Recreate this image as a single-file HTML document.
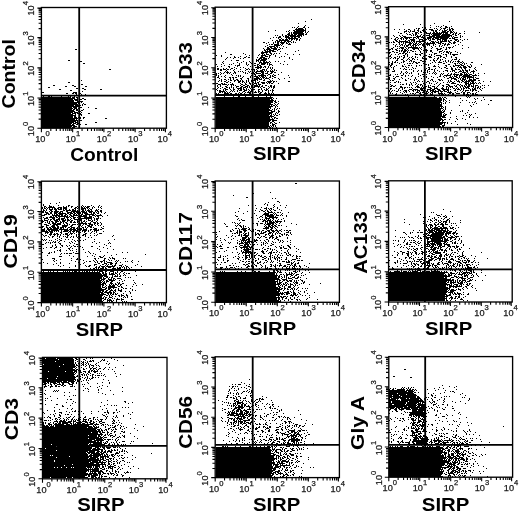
<!DOCTYPE html><html><head><meta charset="utf-8"><style>html,body{margin:0;padding:0;background:#fff;width:520px;height:513px;overflow:hidden}svg{display:block;will-change:transform}text{font-family:"Liberation Sans",sans-serif;fill:#111}</style></head><body>
<svg width="520" height="513" viewBox="0 0 520 513">
<path d="M75 49.5h2M68 60.5h2M80 61.5h2M83 63.5h2M109 69.5h2M81 80.5h1M68 82.5h2M81 84.5h2M53 85.5h2M72 85.5h2M65 86.5h2M74 86.5h2M85 86.5h2M48 87.5h2M76 88.5h2M82 88.5h2M59 89.5h2M84 89.5h2M100 89.5h2M70 90.5h2M82 91.5h1M42 92.5h2M73 92.5h4M66 93.5h2M72 93.5h2M75 93.5h2M80 93.5h1M76 94.5h1M81 94.5h1M85 94.5h1M75 95.5h1M43 96.5h1M48 96.5h2M51 96.5h1M61 96.5h1M68 96.5h1M70 96.5h1M74 96.5h1M42 97.5h29M72 97.5h3M76 97.5h2M42 98.5h33M77 98.5h1M79 98.5h1M82 98.5h2M42 99.5h31M74 99.5h4M80 99.5h2M84 99.5h2M42 100.5h32M75 100.5h3M42 101.5h32M77 101.5h6M42 102.5h37M81 102.5h1M42 103.5h35M78 103.5h2M83 103.5h1M42 104.5h36M79 104.5h1M82 104.5h1M84 104.5h2M42 105.5h32M75 105.5h6M82 105.5h1M42 106.5h37M42 107.5h30M73 107.5h4M80 107.5h2M88 107.5h1M42 108.5h31M74 108.5h3M78 108.5h2M95 108.5h2M42 109.5h30M73 109.5h2M76 109.5h2M79 109.5h1M83 109.5h1M42 110.5h32M76 110.5h2M79 110.5h1M81 110.5h2M42 111.5h33M78 111.5h1M80 111.5h1M42 112.5h31M74 112.5h4M81 112.5h1M42 113.5h29M72 113.5h4M77 113.5h2M80 113.5h1M88 113.5h2M42 114.5h31M75 114.5h1M80 114.5h2M42 115.5h34M81 115.5h1M42 116.5h31M74 116.5h2M79 116.5h1M42 117.5h31M74 117.5h3M78 117.5h1M80 117.5h1M83 117.5h2M42 118.5h36M80 118.5h1M83 118.5h1M105 118.5h2M42 119.5h33M76 119.5h1M42 120.5h36M80 120.5h2M42 121.5h34M77 121.5h1M42 122.5h32M75 122.5h3M95 122.5h2M42 123.5h30M73 123.5h3M77 123.5h2M42 124.5h29M72 124.5h2M76 124.5h2M80 124.5h1M85 124.5h2M42 125.5h33M42 126.5h30M73 126.5h4M42 127.5h29M72 127.5h3" stroke="#000" stroke-width="1.0" fill="none"/>
<rect x="41.4" y="7.5" width="125.0" height="120.7" fill="none" stroke="#000" stroke-width="1.35"/>
<path d="M79.2 7.5V128.2M41.4 95.6H166.4" stroke="#000" stroke-width="1.8"/>
<path d="M41.40 128.2v4.0M41.4 128.20h-4.0M50.81 128.2v2.8M41.4 119.12h-2.8M56.31 128.2v2.8M41.4 113.80h-2.8M60.21 128.2v2.8M41.4 110.03h-2.8M63.24 128.2v2.8M41.4 107.11h-2.8M65.72 128.2v2.8M41.4 104.72h-2.8M67.81 128.2v2.8M41.4 102.70h-2.8M69.62 128.2v2.8M41.4 100.95h-2.8M71.22 128.2v2.8M41.4 99.41h-2.8M72.65 128.2v4.0M41.4 98.02h-4.0M82.06 128.2v2.8M41.4 88.94h-2.8M87.56 128.2v2.8M41.4 83.63h-2.8M91.46 128.2v2.8M41.4 79.86h-2.8M94.49 128.2v2.8M41.4 76.93h-2.8M96.97 128.2v2.8M41.4 74.54h-2.8M99.06 128.2v2.8M41.4 72.52h-2.8M100.87 128.2v2.8M41.4 70.77h-2.8M102.47 128.2v2.8M41.4 69.23h-2.8M103.90 128.2v4.0M41.4 67.85h-4.0M113.31 128.2v2.8M41.4 58.77h-2.8M118.81 128.2v2.8M41.4 53.45h-2.8M122.71 128.2v2.8M41.4 49.68h-2.8M125.74 128.2v2.8M41.4 46.76h-2.8M128.22 128.2v2.8M41.4 44.37h-2.8M130.31 128.2v2.8M41.4 42.35h-2.8M132.12 128.2v2.8M41.4 40.60h-2.8M133.72 128.2v2.8M41.4 39.06h-2.8M135.15 128.2v4.0M41.4 37.67h-4.0M144.56 128.2v2.8M41.4 28.59h-2.8M150.06 128.2v2.8M41.4 23.28h-2.8M153.96 128.2v2.8M41.4 19.51h-2.8M156.99 128.2v2.8M41.4 16.58h-2.8M159.47 128.2v2.8M41.4 14.19h-2.8M161.56 128.2v2.8M41.4 12.17h-2.8M163.37 128.2v2.8M41.4 10.42h-2.8M164.97 128.2v2.8M41.4 8.88h-2.8M165.40 128.2v4M41.4 8.10h-4" stroke="#000" stroke-width="1.1" fill="none"/>
<text x="42.4" y="142.2" font-size="9.2" text-anchor="middle" stroke="#222" stroke-width="0.25">10<tspan font-size="7.6" dy="-5.9">0</tspan></text>
<text x="72.9" y="142.2" font-size="9.2" text-anchor="middle" stroke="#222" stroke-width="0.25">10<tspan font-size="7.6" dy="-5.9">1</tspan></text>
<text x="104.1" y="142.2" font-size="9.2" text-anchor="middle" stroke="#222" stroke-width="0.25">10<tspan font-size="7.6" dy="-5.9">2</tspan></text>
<text x="135.3" y="142.2" font-size="9.2" text-anchor="middle" stroke="#222" stroke-width="0.25">10<tspan font-size="7.6" dy="-5.9">3</tspan></text>
<text x="164.8" y="142.2" font-size="9.2" text-anchor="middle" stroke="#222" stroke-width="0.25">10<tspan font-size="7.6" dy="-5.9">4</tspan></text>
<text transform="translate(34.2,129.0) rotate(-90)" font-size="9.2" text-anchor="middle" stroke="#222" stroke-width="0.25">10<tspan font-size="7.6" dy="-5.9">0</tspan></text>
<text transform="translate(34.2,98.8) rotate(-90)" font-size="9.2" text-anchor="middle" stroke="#222" stroke-width="0.25">10<tspan font-size="7.6" dy="-5.9">1</tspan></text>
<text transform="translate(34.2,68.6) rotate(-90)" font-size="9.2" text-anchor="middle" stroke="#222" stroke-width="0.25">10<tspan font-size="7.6" dy="-5.9">2</tspan></text>
<text transform="translate(34.2,38.5) rotate(-90)" font-size="9.2" text-anchor="middle" stroke="#222" stroke-width="0.25">10<tspan font-size="7.6" dy="-5.9">3</tspan></text>
<text transform="translate(34.2,8.3) rotate(-90)" font-size="9.2" text-anchor="middle" stroke="#222" stroke-width="0.25">10<tspan font-size="7.6" dy="-5.9">4</tspan></text>
<text x="104.3" y="160.5" font-size="17.9" font-weight="bold" text-anchor="middle" textLength="68.2" lengthAdjust="spacingAndGlyphs" style="fill:#000">Control</text>
<text transform="translate(14.6,73.8) rotate(-90)" font-size="18.2" font-weight="bold" text-anchor="middle" textLength="69.3" lengthAdjust="spacingAndGlyphs" style="fill:#000">Control</text>
<path d="M311 19.5h1M305 21.5h1M298 23.5h1M305 25.5h1M298 26.5h1M304 26.5h1M292 27.5h1M294 27.5h1M297 27.5h1M303 27.5h2M308 27.5h1M296 28.5h1M298 28.5h5M305 28.5h1M295 29.5h9M305 29.5h1M275 30.5h1M289 30.5h1M293 30.5h2M296 30.5h10M268 31.5h1M286 31.5h1M288 31.5h1M294 31.5h10M305 31.5h1M308 31.5h1M289 32.5h1M291 32.5h1M293 32.5h10M305 32.5h1M307 32.5h1M288 33.5h2M291 33.5h1M293 33.5h11M306 33.5h1M282 34.5h1M287 34.5h3M291 34.5h2M294 34.5h3M298 34.5h6M305 34.5h2M275 35.5h1M277 35.5h1M282 35.5h1M285 35.5h2M288 35.5h8M297 35.5h5M303 35.5h1M279 36.5h2M283 36.5h1M285 36.5h4M290 36.5h10M301 36.5h1M273 37.5h1M276 37.5h1M278 37.5h3M285 37.5h5M291 37.5h2M294 37.5h2M298 37.5h2M270 38.5h1M278 38.5h1M281 38.5h1M286 38.5h1M288 38.5h10M300 38.5h1M279 39.5h2M282 39.5h2M285 39.5h3M289 39.5h1M291 39.5h2M294 39.5h1M296 39.5h2M299 39.5h1M272 40.5h1M276 40.5h2M279 40.5h10M291 40.5h1M296 40.5h1M299 40.5h1M275 41.5h1M277 41.5h3M281 41.5h1M284 41.5h2M287 41.5h4M293 41.5h1M263 42.5h2M268 42.5h1M273 42.5h1M275 42.5h1M277 42.5h2M280 42.5h5M286 42.5h1M288 42.5h1M291 42.5h1M293 42.5h1M295 42.5h1M266 43.5h1M273 43.5h1M277 43.5h2M281 43.5h3M286 43.5h2M289 43.5h1M269 44.5h1M271 44.5h2M274 44.5h5M280 44.5h1M282 44.5h1M288 44.5h3M267 45.5h1M274 45.5h6M281 45.5h1M265 46.5h1M269 46.5h6M276 46.5h2M283 46.5h1M267 47.5h2M270 47.5h2M274 47.5h2M277 47.5h1M279 47.5h1M286 47.5h1M263 48.5h1M267 48.5h3M271 48.5h6M280 48.5h1M282 48.5h1M264 49.5h1M266 49.5h5M273 49.5h4M278 49.5h2M264 50.5h2M267 50.5h1M269 50.5h5M277 50.5h1M298 50.5h1M262 51.5h1M265 51.5h6M272 51.5h4M280 51.5h1M295 51.5h1M225 52.5h1M261 52.5h7M269 52.5h2M243 53.5h1M261 53.5h3M266 53.5h1M270 53.5h2M274 53.5h1M276 53.5h1M279 53.5h1M285 53.5h1M230 54.5h2M245 54.5h1M252 54.5h1M259 54.5h1M262 54.5h1M264 54.5h1M266 54.5h3M271 54.5h1M273 54.5h1M287 54.5h1M293 54.5h1M299 54.5h1M216 55.5h1M221 55.5h1M249 55.5h1M258 55.5h1M261 55.5h5M269 55.5h2M275 55.5h1M221 56.5h1M234 56.5h1M240 56.5h1M246 56.5h1M261 56.5h2M265 56.5h3M269 56.5h1M275 56.5h1M281 56.5h1M284 56.5h1M227 57.5h1M230 57.5h1M234 57.5h2M238 57.5h1M244 57.5h2M248 57.5h2M257 57.5h1M260 57.5h5M269 57.5h1M279 57.5h1M289 57.5h1M226 58.5h1M233 58.5h1M240 58.5h1M243 58.5h1M252 58.5h1M259 58.5h3M263 58.5h4M268 58.5h1M289 58.5h1M225 59.5h1M256 59.5h1M258 59.5h2M261 59.5h6M292 59.5h1M231 60.5h1M236 60.5h3M256 60.5h3M260 60.5h6M223 61.5h1M243 61.5h1M249 61.5h1M256 61.5h1M258 61.5h1M260 61.5h1M263 61.5h2M266 61.5h1M269 61.5h1M275 61.5h1M278 61.5h1M284 61.5h1M222 62.5h1M237 62.5h1M241 62.5h1M246 62.5h1M250 62.5h1M252 62.5h1M259 62.5h3M263 62.5h6M270 62.5h1M223 63.5h1M233 63.5h1M239 63.5h1M246 63.5h1M251 63.5h1M254 63.5h2M259 63.5h1M261 63.5h5M267 63.5h1M269 63.5h1M280 63.5h1M216 64.5h1M221 64.5h1M229 64.5h1M231 64.5h1M239 64.5h1M246 64.5h1M248 64.5h1M257 64.5h2M261 64.5h4M267 64.5h1M269 64.5h3M283 64.5h1M287 64.5h1M224 65.5h1M235 65.5h1M237 65.5h3M247 65.5h1M254 65.5h2M257 65.5h1M259 65.5h2M269 65.5h1M272 65.5h1M217 66.5h1M221 66.5h1M228 66.5h2M237 66.5h1M250 66.5h1M257 66.5h2M260 66.5h2M264 66.5h2M268 66.5h1M229 67.5h1M234 67.5h1M240 67.5h1M243 67.5h1M255 67.5h7M263 67.5h1M265 67.5h1M268 67.5h1M270 67.5h1M272 67.5h1M217 68.5h2M223 68.5h1M226 68.5h1M231 68.5h2M236 68.5h1M245 68.5h1M248 68.5h1M252 68.5h1M257 68.5h2M260 68.5h1M267 68.5h1M270 68.5h1M272 68.5h1M217 69.5h2M220 69.5h2M223 69.5h3M227 69.5h2M230 69.5h1M234 69.5h1M240 69.5h1M246 69.5h2M249 69.5h1M251 69.5h4M256 69.5h1M262 69.5h3M266 69.5h1M271 69.5h1M274 69.5h1M220 70.5h2M226 70.5h1M233 70.5h1M245 70.5h1M254 70.5h1M257 70.5h1M260 70.5h3M264 70.5h1M266 70.5h1M270 70.5h1M272 70.5h1M274 70.5h1M276 70.5h1M225 71.5h1M227 71.5h1M234 71.5h1M238 71.5h1M240 71.5h1M242 71.5h1M248 71.5h1M250 71.5h1M252 71.5h1M254 71.5h1M256 71.5h8M265 71.5h1M267 71.5h2M270 71.5h4M220 72.5h1M224 72.5h1M226 72.5h3M230 72.5h1M234 72.5h2M243 72.5h1M245 72.5h1M249 72.5h1M253 72.5h1M255 72.5h2M261 72.5h3M267 72.5h1M271 72.5h2M274 72.5h2M281 72.5h1M216 73.5h1M218 73.5h1M221 73.5h1M223 73.5h1M227 73.5h1M229 73.5h1M233 73.5h1M235 73.5h1M245 73.5h1M247 73.5h1M251 73.5h1M253 73.5h2M256 73.5h5M262 73.5h2M265 73.5h3M270 73.5h2M216 74.5h1M220 74.5h1M231 74.5h1M254 74.5h2M261 74.5h3M268 74.5h2M273 74.5h1M278 74.5h1M216 75.5h1M218 75.5h1M225 75.5h1M232 75.5h1M236 75.5h1M238 75.5h1M240 75.5h1M251 75.5h1M255 75.5h1M258 75.5h8M267 75.5h1M270 75.5h1M272 75.5h1M274 75.5h2M288 75.5h1M218 76.5h1M221 76.5h1M224 76.5h1M238 76.5h1M240 76.5h1M243 76.5h1M250 76.5h1M254 76.5h4M259 76.5h1M261 76.5h3M265 76.5h1M270 76.5h1M272 76.5h2M217 77.5h2M225 77.5h1M229 77.5h2M232 77.5h2M235 77.5h2M242 77.5h1M250 77.5h1M256 77.5h3M260 77.5h1M262 77.5h3M266 77.5h1M269 77.5h2M274 77.5h2M289 77.5h1M219 78.5h1M230 78.5h1M233 78.5h1M240 78.5h2M247 78.5h2M252 78.5h1M254 78.5h6M261 78.5h1M263 78.5h1M265 78.5h4M272 78.5h1M278 78.5h1M284 78.5h1M221 79.5h1M224 79.5h2M228 79.5h1M230 79.5h1M233 79.5h1M236 79.5h2M241 79.5h1M248 79.5h1M252 79.5h1M254 79.5h4M259 79.5h3M264 79.5h1M269 79.5h1M279 79.5h1M219 80.5h1M221 80.5h1M226 80.5h1M230 80.5h2M234 80.5h2M237 80.5h2M240 80.5h1M242 80.5h1M246 80.5h1M248 80.5h1M251 80.5h1M253 80.5h3M257 80.5h1M263 80.5h2M270 80.5h1M272 80.5h1M218 81.5h1M221 81.5h1M224 81.5h2M228 81.5h1M234 81.5h1M238 81.5h3M242 81.5h2M246 81.5h1M248 81.5h1M251 81.5h2M255 81.5h1M259 81.5h1M267 81.5h5M273 81.5h2M276 81.5h1M288 81.5h2M226 82.5h2M230 82.5h1M238 82.5h2M242 82.5h1M244 82.5h1M246 82.5h1M249 82.5h1M252 82.5h2M255 82.5h1M257 82.5h2M261 82.5h4M266 82.5h1M268 82.5h3M273 82.5h1M216 83.5h2M221 83.5h2M224 83.5h1M232 83.5h1M240 83.5h1M245 83.5h1M249 83.5h2M252 83.5h1M254 83.5h3M258 83.5h1M262 83.5h3M267 83.5h1M269 83.5h1M271 83.5h2M278 83.5h1M218 84.5h3M222 84.5h5M228 84.5h1M230 84.5h4M241 84.5h2M245 84.5h2M250 84.5h1M252 84.5h2M256 84.5h1M258 84.5h3M217 85.5h1M220 85.5h1M227 85.5h1M231 85.5h1M233 85.5h1M235 85.5h1M240 85.5h1M243 85.5h2M247 85.5h2M251 85.5h1M254 85.5h4M259 85.5h1M262 85.5h1M265 85.5h2M270 85.5h2M274 85.5h1M217 86.5h1M220 86.5h1M225 86.5h2M231 86.5h1M236 86.5h3M241 86.5h2M245 86.5h3M249 86.5h1M251 86.5h2M254 86.5h6M261 86.5h2M268 86.5h1M270 86.5h2M273 86.5h2M218 87.5h1M222 87.5h1M226 87.5h2M229 87.5h1M231 87.5h1M233 87.5h1M236 87.5h1M240 87.5h2M243 87.5h3M247 87.5h1M249 87.5h1M251 87.5h1M253 87.5h2M258 87.5h1M260 87.5h1M263 87.5h2M269 87.5h1M271 87.5h1M273 87.5h2M217 88.5h1M220 88.5h1M224 88.5h2M229 88.5h1M233 88.5h1M237 88.5h5M243 88.5h1M246 88.5h1M250 88.5h1M252 88.5h1M261 88.5h1M266 88.5h1M268 88.5h1M273 88.5h1M216 89.5h1M223 89.5h1M225 89.5h3M230 89.5h1M233 89.5h2M238 89.5h1M240 89.5h2M243 89.5h2M246 89.5h1M248 89.5h1M251 89.5h4M258 89.5h2M261 89.5h1M264 89.5h1M266 89.5h2M272 89.5h1M217 90.5h1M219 90.5h2M223 90.5h1M225 90.5h1M231 90.5h1M233 90.5h1M237 90.5h1M239 90.5h3M244 90.5h3M249 90.5h1M251 90.5h1M258 90.5h1M262 90.5h1M265 90.5h2M268 90.5h1M270 90.5h1M272 90.5h2M219 91.5h6M226 91.5h1M230 91.5h1M232 91.5h1M234 91.5h1M237 91.5h1M243 91.5h2M248 91.5h1M250 91.5h2M255 91.5h1M258 91.5h2M262 91.5h1M268 91.5h1M272 91.5h1M219 92.5h2M222 92.5h1M224 92.5h2M227 92.5h1M229 92.5h1M239 92.5h1M242 92.5h1M245 92.5h1M247 92.5h4M254 92.5h3M258 92.5h1M260 92.5h2M265 92.5h1M268 92.5h1M272 92.5h1M216 93.5h1M218 93.5h1M224 93.5h5M230 93.5h2M235 93.5h2M238 93.5h1M240 93.5h2M244 93.5h1M249 93.5h2M259 93.5h2M264 93.5h3M268 93.5h2M271 93.5h1M273 93.5h1M217 94.5h3M221 94.5h1M223 94.5h1M225 94.5h1M227 94.5h1M229 94.5h3M233 94.5h1M236 94.5h1M238 94.5h1M240 94.5h1M242 94.5h1M246 94.5h2M249 94.5h2M252 94.5h1M257 94.5h1M259 94.5h2M262 94.5h4M267 94.5h1M271 94.5h2M219 95.5h1M222 95.5h1M225 95.5h1M228 95.5h2M232 95.5h2M235 95.5h2M238 95.5h3M244 95.5h1M247 95.5h3M251 95.5h2M255 95.5h1M257 95.5h2M264 95.5h1M272 95.5h1M224 96.5h1M233 96.5h1M238 96.5h2M245 96.5h1M253 96.5h1M258 96.5h1M266 96.5h1M270 96.5h1M216 97.5h57M216 98.5h56M273 98.5h1M276 98.5h1M216 99.5h54M271 99.5h2M216 100.5h58M275 100.5h1M216 101.5h57M274 101.5h2M278 101.5h1M216 102.5h57M275 102.5h2M216 103.5h55M274 103.5h1M278 103.5h1M216 104.5h57M275 104.5h1M277 104.5h1M216 105.5h54M271 105.5h1M273 105.5h2M276 105.5h1M216 106.5h57M275 106.5h1M277 106.5h1M216 107.5h55M275 107.5h1M216 108.5h53M270 108.5h1M274 108.5h1M277 108.5h1M279 108.5h1M216 109.5h54M272 109.5h1M274 109.5h1M276 109.5h1M216 110.5h56M274 110.5h1M278 110.5h1M216 111.5h53M271 111.5h4M278 111.5h2M216 112.5h57M276 112.5h1M278 112.5h1M216 113.5h56M275 113.5h1M277 113.5h1M216 114.5h54M271 114.5h1M273 114.5h1M275 114.5h1M279 114.5h1M216 115.5h53M270 115.5h2M274 115.5h1M276 115.5h2M216 116.5h58M216 117.5h54M271 117.5h1M274 117.5h2M216 118.5h54M272 118.5h1M274 118.5h1M276 118.5h2M216 119.5h58M216 120.5h55M272 120.5h5M216 121.5h54M272 121.5h2M216 122.5h53M270 122.5h2M274 122.5h1M279 122.5h1M216 123.5h53M270 123.5h1M272 123.5h1M275 123.5h2M216 124.5h53M272 124.5h3M216 125.5h53M270 125.5h1M272 125.5h2M275 125.5h1M216 126.5h54M271 126.5h1M273 126.5h1M275 126.5h1M216 127.5h52M269 127.5h2M272 127.5h1M276 127.5h1" stroke="#000" stroke-width="1.0" fill="none"/>
<rect x="215.2" y="7.2" width="124.2" height="121.1" fill="none" stroke="#000" stroke-width="1.35"/>
<path d="M252.6 7.2V128.3M215.2 95.0H339.4" stroke="#000" stroke-width="1.8"/>
<path d="M215.20 128.3v4.0M215.2 128.30h-4.0M224.55 128.3v2.8M215.2 119.19h-2.8M230.01 128.3v2.8M215.2 113.86h-2.8M233.89 128.3v2.8M215.2 110.07h-2.8M236.90 128.3v2.8M215.2 107.14h-2.8M239.36 128.3v2.8M215.2 104.74h-2.8M241.44 128.3v2.8M215.2 102.71h-2.8M243.24 128.3v2.8M215.2 100.96h-2.8M244.83 128.3v2.8M215.2 99.41h-2.8M246.25 128.3v4.0M215.2 98.03h-4.0M255.60 128.3v2.8M215.2 88.91h-2.8M261.06 128.3v2.8M215.2 83.58h-2.8M264.94 128.3v2.8M215.2 79.80h-2.8M267.95 128.3v2.8M215.2 76.86h-2.8M270.41 128.3v2.8M215.2 74.47h-2.8M272.49 128.3v2.8M215.2 72.44h-2.8M274.29 128.3v2.8M215.2 70.68h-2.8M275.88 128.3v2.8M215.2 69.14h-2.8M277.30 128.3v4.0M215.2 67.75h-4.0M286.65 128.3v2.8M215.2 58.64h-2.8M292.11 128.3v2.8M215.2 53.31h-2.8M295.99 128.3v2.8M215.2 49.52h-2.8M299.00 128.3v2.8M215.2 46.59h-2.8M301.46 128.3v2.8M215.2 44.19h-2.8M303.54 128.3v2.8M215.2 42.16h-2.8M305.34 128.3v2.8M215.2 40.41h-2.8M306.93 128.3v2.8M215.2 38.86h-2.8M308.35 128.3v4.0M215.2 37.48h-4.0M317.70 128.3v2.8M215.2 28.36h-2.8M323.16 128.3v2.8M215.2 23.03h-2.8M327.04 128.3v2.8M215.2 19.25h-2.8M330.05 128.3v2.8M215.2 16.31h-2.8M332.51 128.3v2.8M215.2 13.92h-2.8M334.59 128.3v2.8M215.2 11.89h-2.8M336.39 128.3v2.8M215.2 10.13h-2.8M337.98 128.3v2.8M215.2 8.59h-2.8M338.40 128.3v4M215.2 7.80h-4" stroke="#000" stroke-width="1.1" fill="none"/>
<text x="216.2" y="142.3" font-size="9.2" text-anchor="middle" stroke="#222" stroke-width="0.25">10<tspan font-size="7.6" dy="-5.9">0</tspan></text>
<text x="246.4" y="142.3" font-size="9.2" text-anchor="middle" stroke="#222" stroke-width="0.25">10<tspan font-size="7.6" dy="-5.9">1</tspan></text>
<text x="277.5" y="142.3" font-size="9.2" text-anchor="middle" stroke="#222" stroke-width="0.25">10<tspan font-size="7.6" dy="-5.9">2</tspan></text>
<text x="308.5" y="142.3" font-size="9.2" text-anchor="middle" stroke="#222" stroke-width="0.25">10<tspan font-size="7.6" dy="-5.9">3</tspan></text>
<text x="337.8" y="142.3" font-size="9.2" text-anchor="middle" stroke="#222" stroke-width="0.25">10<tspan font-size="7.6" dy="-5.9">4</tspan></text>
<text transform="translate(208.0,129.1) rotate(-90)" font-size="9.2" text-anchor="middle" stroke="#222" stroke-width="0.25">10<tspan font-size="7.6" dy="-5.9">0</tspan></text>
<text transform="translate(208.0,98.8) rotate(-90)" font-size="9.2" text-anchor="middle" stroke="#222" stroke-width="0.25">10<tspan font-size="7.6" dy="-5.9">1</tspan></text>
<text transform="translate(208.0,68.5) rotate(-90)" font-size="9.2" text-anchor="middle" stroke="#222" stroke-width="0.25">10<tspan font-size="7.6" dy="-5.9">2</tspan></text>
<text transform="translate(208.0,38.3) rotate(-90)" font-size="9.2" text-anchor="middle" stroke="#222" stroke-width="0.25">10<tspan font-size="7.6" dy="-5.9">3</tspan></text>
<text transform="translate(208.0,8.0) rotate(-90)" font-size="9.2" text-anchor="middle" stroke="#222" stroke-width="0.25">10<tspan font-size="7.6" dy="-5.9">4</tspan></text>
<text x="276.6" y="160.2" font-size="17.9" font-weight="bold" text-anchor="middle" textLength="47.4" lengthAdjust="spacingAndGlyphs" style="fill:#000">SIRP</text>
<text transform="translate(192.0,68.2) rotate(-90)" font-size="18.2" font-weight="bold" text-anchor="middle" textLength="51.9" lengthAdjust="spacingAndGlyphs" style="fill:#000">CD33</text>
<path d="M449 21.5h1M434 23.5h1M403 24.5h1M420 24.5h1M430 25.5h1M443 25.5h1M436 26.5h1M438 26.5h1M441 26.5h1M445 26.5h2M451 26.5h1M422 27.5h1M424 27.5h2M430 27.5h1M440 27.5h1M445 27.5h3M449 27.5h1M416 28.5h1M418 28.5h2M425 28.5h1M434 28.5h1M436 28.5h1M441 28.5h1M443 28.5h3M449 28.5h1M451 28.5h2M394 29.5h1M399 29.5h1M404 29.5h1M408 29.5h2M414 29.5h1M418 29.5h1M423 29.5h2M426 29.5h1M429 29.5h4M437 29.5h1M440 29.5h1M444 29.5h1M447 29.5h1M449 29.5h2M452 29.5h2M406 30.5h1M410 30.5h1M414 30.5h1M417 30.5h2M422 30.5h3M431 30.5h3M435 30.5h2M439 30.5h1M442 30.5h1M444 30.5h3M449 30.5h2M452 30.5h1M404 31.5h3M408 31.5h1M410 31.5h1M412 31.5h3M418 31.5h1M420 31.5h1M423 31.5h3M433 31.5h1M435 31.5h2M442 31.5h4M447 31.5h2M450 31.5h2M453 31.5h1M464 31.5h1M398 32.5h1M404 32.5h1M409 32.5h1M415 32.5h3M420 32.5h2M424 32.5h3M430 32.5h1M433 32.5h2M436 32.5h2M439 32.5h1M441 32.5h7M450 32.5h3M454 32.5h1M456 32.5h1M479 32.5h1M400 33.5h2M406 33.5h1M412 33.5h1M415 33.5h2M418 33.5h1M424 33.5h1M426 33.5h5M432 33.5h10M443 33.5h1M445 33.5h3M450 33.5h1M453 33.5h1M455 33.5h2M459 33.5h2M464 33.5h1M407 34.5h1M409 34.5h2M413 34.5h1M415 34.5h2M421 34.5h1M424 34.5h1M429 34.5h1M431 34.5h1M433 34.5h8M442 34.5h8M452 34.5h2M455 34.5h1M458 34.5h1M393 35.5h1M399 35.5h1M402 35.5h1M411 35.5h1M413 35.5h1M415 35.5h1M417 35.5h1M420 35.5h1M423 35.5h2M426 35.5h4M432 35.5h8M441 35.5h11M455 35.5h2M460 35.5h1M394 36.5h1M400 36.5h1M403 36.5h3M416 36.5h5M422 36.5h1M424 36.5h1M429 36.5h6M436 36.5h14M451 36.5h1M453 36.5h1M460 36.5h1M462 36.5h1M396 37.5h2M401 37.5h2M404 37.5h8M413 37.5h3M417 37.5h2M421 37.5h4M427 37.5h5M433 37.5h16M452 37.5h1M454 37.5h4M460 37.5h1M391 38.5h1M395 38.5h1M398 38.5h1M400 38.5h2M403 38.5h1M405 38.5h3M409 38.5h1M413 38.5h1M416 38.5h1M418 38.5h1M423 38.5h3M427 38.5h4M432 38.5h2M435 38.5h4M440 38.5h8M449 38.5h2M452 38.5h3M394 39.5h2M397 39.5h1M401 39.5h1M403 39.5h1M406 39.5h1M410 39.5h5M419 39.5h4M424 39.5h3M428 39.5h1M430 39.5h1M432 39.5h3M437 39.5h4M442 39.5h5M454 39.5h4M460 39.5h1M464 39.5h1M467 39.5h1M395 40.5h2M399 40.5h1M405 40.5h1M408 40.5h2M411 40.5h4M419 40.5h1M422 40.5h2M425 40.5h1M429 40.5h2M437 40.5h1M440 40.5h1M442 40.5h1M444 40.5h3M448 40.5h1M450 40.5h2M455 40.5h2M458 40.5h1M462 40.5h1M393 41.5h1M396 41.5h2M399 41.5h9M409 41.5h1M411 41.5h1M413 41.5h2M416 41.5h8M431 41.5h3M435 41.5h1M438 41.5h1M440 41.5h7M448 41.5h2M454 41.5h1M457 41.5h2M389 42.5h1M391 42.5h1M393 42.5h2M398 42.5h2M401 42.5h1M403 42.5h1M405 42.5h6M412 42.5h1M414 42.5h1M416 42.5h1M419 42.5h2M425 42.5h1M427 42.5h1M430 42.5h1M432 42.5h3M436 42.5h3M440 42.5h2M449 42.5h2M453 42.5h3M460 42.5h1M399 43.5h1M403 43.5h1M405 43.5h1M409 43.5h3M413 43.5h1M415 43.5h2M418 43.5h1M421 43.5h1M423 43.5h2M426 43.5h9M438 43.5h3M442 43.5h2M445 43.5h1M448 43.5h1M451 43.5h1M453 43.5h2M393 44.5h1M396 44.5h1M399 44.5h1M401 44.5h2M405 44.5h1M408 44.5h3M413 44.5h3M417 44.5h1M419 44.5h2M422 44.5h2M426 44.5h4M433 44.5h1M435 44.5h1M440 44.5h1M444 44.5h2M447 44.5h3M458 44.5h1M395 45.5h1M400 45.5h1M402 45.5h1M404 45.5h1M406 45.5h3M410 45.5h1M412 45.5h2M415 45.5h2M418 45.5h1M422 45.5h3M427 45.5h1M429 45.5h1M433 45.5h1M439 45.5h1M442 45.5h1M444 45.5h1M447 45.5h1M455 45.5h1M462 45.5h1M395 46.5h1M397 46.5h1M399 46.5h1M404 46.5h1M406 46.5h2M411 46.5h1M413 46.5h1M415 46.5h1M423 46.5h1M425 46.5h1M431 46.5h1M435 46.5h1M439 46.5h1M441 46.5h1M453 46.5h1M393 47.5h1M400 47.5h4M405 47.5h1M408 47.5h10M419 47.5h1M421 47.5h1M425 47.5h1M432 47.5h1M443 47.5h1M446 47.5h1M448 47.5h3M452 47.5h1M468 47.5h1M391 48.5h2M397 48.5h1M399 48.5h1M401 48.5h3M406 48.5h1M408 48.5h1M412 48.5h7M420 48.5h1M424 48.5h1M431 48.5h1M436 48.5h2M440 48.5h2M446 48.5h1M449 48.5h1M462 48.5h1M389 49.5h2M392 49.5h1M395 49.5h2M402 49.5h1M404 49.5h2M407 49.5h1M413 49.5h2M418 49.5h1M421 49.5h1M424 49.5h3M437 49.5h4M445 49.5h2M389 50.5h1M396 50.5h2M399 50.5h1M401 50.5h2M404 50.5h3M408 50.5h1M410 50.5h2M419 50.5h1M423 50.5h1M425 50.5h3M430 50.5h2M437 50.5h1M442 50.5h1M392 51.5h2M399 51.5h1M401 51.5h1M403 51.5h3M407 51.5h1M412 51.5h2M415 51.5h1M420 51.5h1M426 51.5h1M430 51.5h2M439 51.5h3M444 51.5h1M446 51.5h2M449 51.5h1M455 51.5h1M389 52.5h2M394 52.5h1M396 52.5h2M403 52.5h2M407 52.5h1M409 52.5h1M420 52.5h1M424 52.5h1M426 52.5h1M432 52.5h1M439 52.5h1M443 52.5h1M446 52.5h3M450 52.5h2M457 52.5h1M389 53.5h1M399 53.5h2M402 53.5h2M405 53.5h2M415 53.5h1M421 53.5h2M434 53.5h3M441 53.5h1M448 53.5h1M450 53.5h1M460 53.5h1M391 54.5h1M395 54.5h1M398 54.5h1M405 54.5h1M407 54.5h1M415 54.5h3M419 54.5h2M424 54.5h1M429 54.5h1M431 54.5h1M434 54.5h1M443 54.5h1M445 54.5h2M450 54.5h1M452 54.5h6M390 55.5h1M403 55.5h2M407 55.5h1M420 55.5h1M425 55.5h2M431 55.5h1M436 55.5h5M446 55.5h1M453 55.5h2M389 56.5h2M397 56.5h1M399 56.5h1M401 56.5h1M404 56.5h1M407 56.5h1M412 56.5h1M415 56.5h1M423 56.5h2M428 56.5h3M434 56.5h1M440 56.5h2M446 56.5h1M451 56.5h1M391 57.5h1M394 57.5h2M399 57.5h1M403 57.5h2M409 57.5h1M411 57.5h1M415 57.5h1M417 57.5h1M422 57.5h1M424 57.5h1M429 57.5h3M438 57.5h1M440 57.5h1M443 57.5h2M451 57.5h1M455 57.5h2M390 58.5h1M393 58.5h1M395 58.5h1M397 58.5h2M403 58.5h1M408 58.5h1M412 58.5h2M422 58.5h5M434 58.5h1M437 58.5h2M445 58.5h1M456 58.5h1M397 59.5h1M401 59.5h2M407 59.5h1M409 59.5h1M412 59.5h1M414 59.5h1M417 59.5h1M425 59.5h2M433 59.5h1M437 59.5h1M440 59.5h1M442 59.5h1M452 59.5h1M454 59.5h3M459 59.5h1M396 60.5h2M403 60.5h1M406 60.5h1M410 60.5h2M420 60.5h2M430 60.5h1M433 60.5h2M436 60.5h1M440 60.5h1M445 60.5h1M448 60.5h1M451 60.5h1M458 60.5h1M392 61.5h1M395 61.5h1M403 61.5h2M409 61.5h1M411 61.5h1M413 61.5h2M422 61.5h2M425 61.5h1M434 61.5h1M439 61.5h1M443 61.5h1M445 61.5h1M448 61.5h1M450 61.5h1M453 61.5h1M455 61.5h1M457 61.5h3M462 61.5h1M389 62.5h1M392 62.5h1M394 62.5h2M397 62.5h1M401 62.5h1M403 62.5h1M413 62.5h1M415 62.5h2M418 62.5h2M432 62.5h1M435 62.5h1M438 62.5h4M446 62.5h1M450 62.5h1M452 62.5h1M458 62.5h1M460 62.5h2M463 62.5h1M471 62.5h2M391 63.5h2M399 63.5h1M407 63.5h1M409 63.5h2M412 63.5h1M416 63.5h2M423 63.5h1M430 63.5h1M443 63.5h2M454 63.5h2M457 63.5h1M459 63.5h1M462 63.5h1M464 63.5h1M466 63.5h1M389 64.5h1M391 64.5h2M404 64.5h1M424 64.5h3M428 64.5h1M438 64.5h1M448 64.5h2M455 64.5h1M460 64.5h2M464 64.5h1M470 64.5h1M481 64.5h1M390 65.5h2M396 65.5h1M402 65.5h1M408 65.5h2M411 65.5h1M416 65.5h1M419 65.5h1M421 65.5h1M424 65.5h1M428 65.5h1M434 65.5h1M445 65.5h2M453 65.5h1M455 65.5h5M461 65.5h3M467 65.5h1M471 65.5h1M390 66.5h1M394 66.5h1M402 66.5h2M405 66.5h1M416 66.5h1M433 66.5h3M438 66.5h1M446 66.5h1M450 66.5h1M453 66.5h2M458 66.5h1M460 66.5h1M463 66.5h3M468 66.5h2M471 66.5h1M391 67.5h1M393 67.5h1M406 67.5h1M408 67.5h1M412 67.5h1M428 67.5h2M439 67.5h1M444 67.5h2M451 67.5h1M457 67.5h1M459 67.5h3M463 67.5h4M469 67.5h2M475 67.5h1M393 68.5h1M400 68.5h1M404 68.5h1M413 68.5h1M415 68.5h1M426 68.5h1M429 68.5h1M435 68.5h1M441 68.5h1M446 68.5h2M451 68.5h2M455 68.5h1M461 68.5h1M464 68.5h2M474 68.5h1M389 69.5h1M393 69.5h1M403 69.5h1M405 69.5h2M409 69.5h1M411 69.5h1M424 69.5h2M428 69.5h2M431 69.5h2M434 69.5h1M451 69.5h2M455 69.5h2M458 69.5h2M462 69.5h1M465 69.5h1M469 69.5h1M475 69.5h1M394 70.5h1M413 70.5h1M418 70.5h1M421 70.5h1M424 70.5h2M427 70.5h1M434 70.5h1M437 70.5h1M445 70.5h3M452 70.5h3M460 70.5h1M462 70.5h2M465 70.5h3M469 70.5h1M473 70.5h1M476 70.5h1M392 71.5h3M401 71.5h1M406 71.5h1M413 71.5h1M417 71.5h1M421 71.5h1M427 71.5h1M429 71.5h1M434 71.5h1M439 71.5h1M443 71.5h1M447 71.5h1M450 71.5h1M452 71.5h1M454 71.5h1M459 71.5h3M463 71.5h1M466 71.5h2M471 71.5h4M401 72.5h1M405 72.5h1M407 72.5h1M411 72.5h1M423 72.5h1M425 72.5h1M427 72.5h1M433 72.5h1M435 72.5h1M455 72.5h2M458 72.5h1M462 72.5h4M467 72.5h1M470 72.5h1M473 72.5h1M400 73.5h1M403 73.5h1M406 73.5h1M409 73.5h1M411 73.5h1M418 73.5h1M429 73.5h1M432 73.5h1M434 73.5h1M436 73.5h1M441 73.5h1M443 73.5h1M448 73.5h1M451 73.5h1M454 73.5h1M460 73.5h2M464 73.5h1M466 73.5h1M468 73.5h1M473 73.5h1M478 73.5h1M484 73.5h1M390 74.5h1M395 74.5h1M397 74.5h1M403 74.5h1M418 74.5h1M422 74.5h2M426 74.5h1M435 74.5h1M440 74.5h1M442 74.5h1M447 74.5h1M450 74.5h2M453 74.5h6M460 74.5h3M464 74.5h4M469 74.5h3M475 74.5h1M389 75.5h2M401 75.5h2M405 75.5h1M408 75.5h1M412 75.5h1M420 75.5h1M424 75.5h1M440 75.5h1M444 75.5h7M454 75.5h1M456 75.5h2M459 75.5h3M463 75.5h7M472 75.5h5M478 75.5h1M393 76.5h1M396 76.5h3M405 76.5h1M411 76.5h1M418 76.5h1M423 76.5h1M426 76.5h1M431 76.5h1M439 76.5h2M443 76.5h1M446 76.5h1M450 76.5h1M452 76.5h1M454 76.5h3M459 76.5h1M462 76.5h10M473 76.5h1M389 77.5h1M395 77.5h1M401 77.5h1M415 77.5h1M426 77.5h1M433 77.5h1M437 77.5h1M444 77.5h1M449 77.5h3M453 77.5h1M456 77.5h2M459 77.5h1M461 77.5h1M463 77.5h3M467 77.5h7M475 77.5h1M389 78.5h1M393 78.5h2M402 78.5h1M408 78.5h1M415 78.5h1M421 78.5h1M428 78.5h1M447 78.5h2M451 78.5h5M458 78.5h1M460 78.5h1M462 78.5h2M465 78.5h1M467 78.5h1M469 78.5h1M473 78.5h1M476 78.5h3M389 79.5h1M394 79.5h1M399 79.5h1M405 79.5h1M410 79.5h1M414 79.5h1M416 79.5h1M431 79.5h2M438 79.5h2M441 79.5h1M451 79.5h1M454 79.5h3M460 79.5h1M462 79.5h4M469 79.5h3M473 79.5h3M390 80.5h1M392 80.5h2M405 80.5h2M414 80.5h1M418 80.5h1M424 80.5h1M430 80.5h1M432 80.5h1M439 80.5h2M442 80.5h1M448 80.5h1M450 80.5h1M456 80.5h1M458 80.5h1M461 80.5h2M464 80.5h1M466 80.5h1M468 80.5h8M478 80.5h2M396 81.5h1M398 81.5h1M417 81.5h1M419 81.5h1M422 81.5h1M424 81.5h1M427 81.5h2M433 81.5h1M435 81.5h1M448 81.5h1M450 81.5h2M454 81.5h1M457 81.5h3M462 81.5h2M465 81.5h5M471 81.5h3M483 81.5h1M490 81.5h1M390 82.5h1M394 82.5h2M398 82.5h1M400 82.5h1M410 82.5h1M413 82.5h1M415 82.5h1M426 82.5h1M429 82.5h1M437 82.5h1M443 82.5h1M447 82.5h1M449 82.5h1M452 82.5h2M459 82.5h1M461 82.5h1M464 82.5h3M468 82.5h1M470 82.5h1M472 82.5h2M475 82.5h1M479 82.5h1M406 83.5h1M411 83.5h1M416 83.5h1M423 83.5h1M429 83.5h1M431 83.5h1M436 83.5h1M440 83.5h1M451 83.5h5M465 83.5h4M470 83.5h5M476 83.5h1M478 83.5h1M480 83.5h1M390 84.5h1M400 84.5h1M402 84.5h2M406 84.5h1M409 84.5h1M411 84.5h1M415 84.5h1M418 84.5h1M420 84.5h2M425 84.5h1M434 84.5h1M439 84.5h1M446 84.5h3M457 84.5h2M460 84.5h1M465 84.5h2M468 84.5h3M473 84.5h1M391 85.5h2M395 85.5h1M409 85.5h1M412 85.5h1M417 85.5h1M420 85.5h1M422 85.5h1M428 85.5h1M430 85.5h1M438 85.5h1M442 85.5h2M448 85.5h2M454 85.5h1M456 85.5h1M459 85.5h1M461 85.5h2M464 85.5h1M466 85.5h1M468 85.5h2M471 85.5h1M473 85.5h1M475 85.5h3M482 85.5h1M484 85.5h1M488 85.5h1M390 86.5h2M393 86.5h2M400 86.5h2M416 86.5h3M422 86.5h1M424 86.5h3M428 86.5h1M432 86.5h3M437 86.5h1M443 86.5h1M446 86.5h2M449 86.5h4M455 86.5h2M460 86.5h1M462 86.5h1M464 86.5h2M467 86.5h3M471 86.5h3M475 86.5h1M478 86.5h1M480 86.5h1M400 87.5h3M404 87.5h2M407 87.5h1M409 87.5h1M411 87.5h1M415 87.5h1M417 87.5h3M421 87.5h1M423 87.5h3M428 87.5h3M434 87.5h1M436 87.5h1M442 87.5h1M446 87.5h1M448 87.5h1M450 87.5h1M452 87.5h1M457 87.5h1M460 87.5h1M463 87.5h1M465 87.5h4M473 87.5h1M475 87.5h1M477 87.5h2M480 87.5h1M484 87.5h1M390 88.5h2M396 88.5h1M399 88.5h1M402 88.5h1M404 88.5h1M412 88.5h1M420 88.5h6M430 88.5h2M434 88.5h4M441 88.5h3M446 88.5h1M448 88.5h1M453 88.5h2M456 88.5h1M458 88.5h1M461 88.5h1M463 88.5h2M466 88.5h1M468 88.5h2M472 88.5h1M474 88.5h2M477 88.5h1M479 88.5h1M482 88.5h1M390 89.5h1M398 89.5h1M402 89.5h1M409 89.5h3M413 89.5h5M420 89.5h3M424 89.5h1M427 89.5h4M432 89.5h3M437 89.5h3M442 89.5h7M450 89.5h1M455 89.5h1M457 89.5h3M461 89.5h1M463 89.5h1M470 89.5h1M472 89.5h4M480 89.5h1M389 90.5h1M392 90.5h1M394 90.5h1M398 90.5h1M400 90.5h1M404 90.5h3M408 90.5h1M412 90.5h2M415 90.5h1M417 90.5h3M421 90.5h5M427 90.5h1M430 90.5h4M435 90.5h1M438 90.5h3M443 90.5h2M447 90.5h2M454 90.5h2M460 90.5h1M463 90.5h1M465 90.5h4M470 90.5h1M472 90.5h2M475 90.5h2M481 90.5h1M389 91.5h1M391 91.5h1M396 91.5h2M403 91.5h1M405 91.5h2M409 91.5h1M413 91.5h1M417 91.5h1M419 91.5h1M423 91.5h2M426 91.5h2M430 91.5h1M432 91.5h7M440 91.5h3M444 91.5h3M448 91.5h1M450 91.5h1M457 91.5h1M462 91.5h1M465 91.5h1M472 91.5h1M478 91.5h1M390 92.5h1M400 92.5h1M404 92.5h1M406 92.5h1M416 92.5h3M420 92.5h1M422 92.5h2M426 92.5h1M428 92.5h1M431 92.5h2M434 92.5h2M438 92.5h1M441 92.5h1M447 92.5h5M455 92.5h1M461 92.5h1M463 92.5h2M467 92.5h3M476 92.5h1M390 93.5h1M392 93.5h1M396 93.5h1M402 93.5h1M410 93.5h1M412 93.5h2M415 93.5h1M419 93.5h2M424 93.5h4M430 93.5h1M432 93.5h1M438 93.5h5M444 93.5h1M449 93.5h2M452 93.5h2M456 93.5h4M463 93.5h2M467 93.5h1M470 93.5h1M472 93.5h2M475 93.5h1M395 94.5h2M405 94.5h1M407 94.5h1M414 94.5h1M420 94.5h2M423 94.5h2M426 94.5h1M430 94.5h3M439 94.5h1M441 94.5h3M445 94.5h1M448 94.5h1M452 94.5h2M463 94.5h2M466 94.5h3M472 94.5h2M475 94.5h3M399 95.5h1M412 95.5h1M420 95.5h1M424 95.5h1M429 95.5h1M434 95.5h1M436 95.5h1M456 95.5h1M466 95.5h1M473 95.5h1M479 95.5h2M484 95.5h1M408 96.5h1M419 96.5h1M434 96.5h1M455 96.5h1M466 96.5h1M468 96.5h1M470 96.5h1M389 97.5h48M439 97.5h2M442 97.5h1M444 97.5h2M467 97.5h1M469 97.5h1M483 97.5h1M389 98.5h53M443 98.5h1M446 98.5h1M460 98.5h1M474 98.5h1M477 98.5h1M389 99.5h53M443 99.5h2M475 99.5h1M484 99.5h1M389 100.5h53M443 100.5h1M445 100.5h1M449 100.5h1M462 100.5h1M466 100.5h1M481 100.5h1M490 100.5h2M389 101.5h52M443 101.5h1M446 101.5h1M475 101.5h1M389 102.5h53M445 102.5h1M449 102.5h1M460 102.5h1M469 102.5h1M472 102.5h1M474 102.5h1M389 103.5h51M441 103.5h1M443 103.5h1M445 103.5h1M476 103.5h1M389 104.5h53M473 104.5h1M488 104.5h1M389 105.5h53M459 105.5h1M470 105.5h1M389 106.5h54M445 106.5h1M471 106.5h1M389 107.5h51M441 107.5h1M443 107.5h1M445 107.5h1M389 108.5h54M445 108.5h1M389 109.5h52M443 109.5h1M445 109.5h1M389 110.5h52M442 110.5h1M444 110.5h1M451 110.5h1M462 110.5h1M468 110.5h1M389 111.5h53M443 111.5h2M460 111.5h1M462 111.5h1M389 112.5h55M450 112.5h1M467 112.5h1M389 113.5h53M444 113.5h1M450 113.5h1M465 113.5h1M475 113.5h1M389 114.5h53M443 114.5h1M445 114.5h2M469 114.5h1M471 114.5h1M389 115.5h53M443 115.5h3M463 115.5h1M466 115.5h1M470 115.5h1M389 116.5h56M456 116.5h1M469 116.5h1M389 117.5h52M442 117.5h4M450 117.5h1M469 117.5h1M473 117.5h1M477 117.5h1M389 118.5h53M456 118.5h1M462 118.5h1M389 119.5h54M444 119.5h2M449 119.5h1M457 119.5h1M465 119.5h1M389 120.5h52M442 120.5h2M389 121.5h51M442 121.5h1M455 121.5h1M389 122.5h57M447 122.5h1M389 123.5h54M444 123.5h1M447 123.5h1M451 123.5h1M467 123.5h1M389 124.5h53M444 124.5h1M457 124.5h1M470 124.5h1M389 125.5h51M442 125.5h3M389 126.5h52M442 126.5h2" stroke="#000" stroke-width="1.0" fill="none"/>
<rect x="388.6" y="6.7" width="124.0" height="120.8" fill="none" stroke="#000" stroke-width="1.35"/>
<path d="M424.7 6.7V127.5M388.6 95.4H512.6" stroke="#000" stroke-width="1.8"/>
<path d="M388.60 127.5v4.0M388.6 127.50h-4.0M397.93 127.5v2.8M388.6 118.41h-2.8M403.39 127.5v2.8M388.6 113.09h-2.8M407.26 127.5v2.8M388.6 109.32h-2.8M410.27 127.5v2.8M388.6 106.39h-2.8M412.72 127.5v2.8M388.6 104.00h-2.8M414.80 127.5v2.8M388.6 101.98h-2.8M416.60 127.5v2.8M388.6 100.23h-2.8M418.18 127.5v2.8M388.6 98.68h-2.8M419.60 127.5v4.0M388.6 97.30h-4.0M428.93 127.5v2.8M388.6 88.21h-2.8M434.39 127.5v2.8M388.6 82.89h-2.8M438.26 127.5v2.8M388.6 79.12h-2.8M441.27 127.5v2.8M388.6 76.19h-2.8M443.72 127.5v2.8M388.6 73.80h-2.8M445.80 127.5v2.8M388.6 71.78h-2.8M447.60 127.5v2.8M388.6 70.03h-2.8M449.18 127.5v2.8M388.6 68.48h-2.8M450.60 127.5v4.0M388.6 67.10h-4.0M459.93 127.5v2.8M388.6 58.01h-2.8M465.39 127.5v2.8M388.6 52.69h-2.8M469.26 127.5v2.8M388.6 48.92h-2.8M472.27 127.5v2.8M388.6 45.99h-2.8M474.72 127.5v2.8M388.6 43.60h-2.8M476.80 127.5v2.8M388.6 41.58h-2.8M478.60 127.5v2.8M388.6 39.83h-2.8M480.18 127.5v2.8M388.6 38.28h-2.8M481.60 127.5v4.0M388.6 36.90h-4.0M490.93 127.5v2.8M388.6 27.81h-2.8M496.39 127.5v2.8M388.6 22.49h-2.8M500.26 127.5v2.8M388.6 18.72h-2.8M503.27 127.5v2.8M388.6 15.79h-2.8M505.72 127.5v2.8M388.6 13.40h-2.8M507.80 127.5v2.8M388.6 11.38h-2.8M509.60 127.5v2.8M388.6 9.63h-2.8M511.18 127.5v2.8M388.6 8.08h-2.8M511.60 127.5v4M388.6 7.30h-4" stroke="#000" stroke-width="1.1" fill="none"/>
<text x="389.6" y="141.5" font-size="9.2" text-anchor="middle" stroke="#222" stroke-width="0.25">10<tspan font-size="7.6" dy="-5.9">0</tspan></text>
<text x="419.8" y="141.5" font-size="9.2" text-anchor="middle" stroke="#222" stroke-width="0.25">10<tspan font-size="7.6" dy="-5.9">1</tspan></text>
<text x="450.8" y="141.5" font-size="9.2" text-anchor="middle" stroke="#222" stroke-width="0.25">10<tspan font-size="7.6" dy="-5.9">2</tspan></text>
<text x="481.8" y="141.5" font-size="9.2" text-anchor="middle" stroke="#222" stroke-width="0.25">10<tspan font-size="7.6" dy="-5.9">3</tspan></text>
<text x="511.0" y="141.5" font-size="9.2" text-anchor="middle" stroke="#222" stroke-width="0.25">10<tspan font-size="7.6" dy="-5.9">4</tspan></text>
<text transform="translate(381.4,128.3) rotate(-90)" font-size="9.2" text-anchor="middle" stroke="#222" stroke-width="0.25">10<tspan font-size="7.6" dy="-5.9">0</tspan></text>
<text transform="translate(381.4,98.1) rotate(-90)" font-size="9.2" text-anchor="middle" stroke="#222" stroke-width="0.25">10<tspan font-size="7.6" dy="-5.9">1</tspan></text>
<text transform="translate(381.4,67.9) rotate(-90)" font-size="9.2" text-anchor="middle" stroke="#222" stroke-width="0.25">10<tspan font-size="7.6" dy="-5.9">2</tspan></text>
<text transform="translate(381.4,37.7) rotate(-90)" font-size="9.2" text-anchor="middle" stroke="#222" stroke-width="0.25">10<tspan font-size="7.6" dy="-5.9">3</tspan></text>
<text transform="translate(381.4,7.5) rotate(-90)" font-size="9.2" text-anchor="middle" stroke="#222" stroke-width="0.25">10<tspan font-size="7.6" dy="-5.9">4</tspan></text>
<text x="448.6" y="160.2" font-size="17.9" font-weight="bold" text-anchor="middle" textLength="47.4" lengthAdjust="spacingAndGlyphs" style="fill:#000">SIRP</text>
<text transform="translate(364.9,66.6) rotate(-90)" font-size="18.2" font-weight="bold" text-anchor="middle" textLength="53.0" lengthAdjust="spacingAndGlyphs" style="fill:#000">CD34</text>
<path d="M59 202.5h1M50 203.5h1M56 203.5h1M43 204.5h1M43 205.5h1M49 205.5h1M58 205.5h1M68 205.5h2M82 205.5h1M91 205.5h1M99 205.5h1M44 206.5h2M49 206.5h3M53 206.5h1M63 206.5h1M66 206.5h1M68 206.5h1M71 206.5h2M77 206.5h1M81 206.5h1M83 206.5h1M85 206.5h1M87 206.5h3M93 206.5h1M98 206.5h1M101 206.5h1M42 207.5h1M44 207.5h1M46 207.5h1M48 207.5h7M58 207.5h4M63 207.5h4M71 207.5h1M75 207.5h2M78 207.5h2M81 207.5h2M84 207.5h1M86 207.5h3M92 207.5h1M94 207.5h1M98 207.5h1M100 207.5h1M42 208.5h1M44 208.5h2M47 208.5h1M49 208.5h1M52 208.5h1M54 208.5h2M57 208.5h2M60 208.5h2M63 208.5h4M74 208.5h2M77 208.5h1M81 208.5h5M87 208.5h1M89 208.5h1M92 208.5h1M101 208.5h1M43 209.5h1M46 209.5h1M49 209.5h4M54 209.5h3M58 209.5h4M63 209.5h1M65 209.5h2M69 209.5h1M72 209.5h2M75 209.5h1M79 209.5h1M81 209.5h3M85 209.5h1M88 209.5h1M90 209.5h2M96 209.5h1M98 209.5h1M43 210.5h2M46 210.5h1M50 210.5h2M55 210.5h2M63 210.5h2M66 210.5h5M72 210.5h4M77 210.5h1M79 210.5h1M82 210.5h2M85 210.5h1M87 210.5h3M91 210.5h1M95 210.5h3M100 210.5h2M42 211.5h2M45 211.5h1M49 211.5h1M51 211.5h2M54 211.5h5M60 211.5h3M66 211.5h2M71 211.5h8M81 211.5h4M86 211.5h1M88 211.5h5M95 211.5h1M97 211.5h2M100 211.5h2M42 212.5h2M45 212.5h3M50 212.5h2M54 212.5h4M59 212.5h2M62 212.5h1M67 212.5h5M73 212.5h2M76 212.5h5M82 212.5h5M89 212.5h3M93 212.5h2M96 212.5h1M98 212.5h1M101 212.5h1M105 212.5h1M46 213.5h3M50 213.5h2M54 213.5h3M58 213.5h8M67 213.5h2M70 213.5h3M74 213.5h2M77 213.5h4M82 213.5h1M84 213.5h4M91 213.5h1M93 213.5h2M97 213.5h2M104 213.5h1M44 214.5h3M48 214.5h2M52 214.5h1M54 214.5h1M56 214.5h2M59 214.5h4M65 214.5h2M69 214.5h2M73 214.5h2M76 214.5h1M78 214.5h2M81 214.5h2M85 214.5h9M95 214.5h1M100 214.5h1M42 215.5h3M52 215.5h8M61 215.5h2M64 215.5h2M67 215.5h1M70 215.5h2M73 215.5h5M79 215.5h3M83 215.5h4M89 215.5h1M92 215.5h3M96 215.5h6M107 215.5h1M50 216.5h2M53 216.5h1M55 216.5h2M58 216.5h10M69 216.5h1M71 216.5h3M78 216.5h9M89 216.5h3M95 216.5h1M97 216.5h2M102 216.5h1M43 217.5h1M46 217.5h2M49 217.5h6M56 217.5h2M59 217.5h1M64 217.5h1M66 217.5h3M70 217.5h1M73 217.5h3M77 217.5h1M79 217.5h2M84 217.5h8M93 217.5h1M98 217.5h1M44 218.5h4M52 218.5h3M58 218.5h2M61 218.5h4M67 218.5h1M71 218.5h1M73 218.5h2M78 218.5h1M80 218.5h12M94 218.5h1M96 218.5h3M100 218.5h1M44 219.5h1M48 219.5h1M50 219.5h2M53 219.5h2M56 219.5h4M61 219.5h3M65 219.5h1M67 219.5h2M70 219.5h1M74 219.5h5M80 219.5h2M86 219.5h1M88 219.5h1M91 219.5h1M94 219.5h1M96 219.5h2M42 220.5h1M44 220.5h4M50 220.5h1M54 220.5h4M59 220.5h1M62 220.5h4M67 220.5h3M71 220.5h2M77 220.5h1M80 220.5h2M84 220.5h1M88 220.5h3M92 220.5h1M94 220.5h1M97 220.5h1M42 221.5h2M47 221.5h1M49 221.5h1M51 221.5h2M55 221.5h4M60 221.5h1M62 221.5h3M67 221.5h1M70 221.5h2M74 221.5h1M77 221.5h2M81 221.5h1M83 221.5h2M86 221.5h1M91 221.5h2M96 221.5h1M42 222.5h1M45 222.5h1M47 222.5h1M49 222.5h1M52 222.5h2M55 222.5h2M60 222.5h2M63 222.5h1M65 222.5h2M70 222.5h2M73 222.5h3M77 222.5h1M79 222.5h1M81 222.5h2M85 222.5h1M90 222.5h1M93 222.5h3M97 222.5h1M100 222.5h1M48 223.5h2M52 223.5h4M57 223.5h4M63 223.5h1M66 223.5h2M78 223.5h9M88 223.5h3M94 223.5h2M97 223.5h2M101 223.5h1M44 224.5h3M50 224.5h1M53 224.5h8M64 224.5h1M67 224.5h1M69 224.5h1M72 224.5h4M77 224.5h1M79 224.5h2M83 224.5h1M85 224.5h2M89 224.5h4M94 224.5h1M97 224.5h1M101 224.5h1M46 225.5h3M52 225.5h3M56 225.5h2M62 225.5h6M71 225.5h2M79 225.5h2M82 225.5h1M87 225.5h3M91 225.5h2M95 225.5h1M98 225.5h1M100 225.5h1M42 226.5h2M46 226.5h1M51 226.5h4M57 226.5h2M62 226.5h5M70 226.5h2M78 226.5h2M81 226.5h1M85 226.5h1M88 226.5h4M103 226.5h1M42 227.5h1M46 227.5h2M49 227.5h2M52 227.5h4M57 227.5h2M60 227.5h4M65 227.5h1M68 227.5h2M71 227.5h4M77 227.5h1M82 227.5h2M85 227.5h1M87 227.5h1M90 227.5h2M93 227.5h1M101 227.5h1M44 228.5h1M47 228.5h2M50 228.5h2M53 228.5h6M60 228.5h2M63 228.5h1M67 228.5h1M70 228.5h2M73 228.5h2M76 228.5h2M79 228.5h3M83 228.5h1M86 228.5h1M94 228.5h3M102 228.5h2M42 229.5h3M47 229.5h11M59 229.5h9M69 229.5h7M77 229.5h5M83 229.5h4M90 229.5h2M93 229.5h4M98 229.5h1M100 229.5h2M42 230.5h3M46 230.5h1M48 230.5h2M51 230.5h8M61 230.5h1M64 230.5h5M70 230.5h2M73 230.5h5M79 230.5h2M82 230.5h5M88 230.5h1M90 230.5h1M94 230.5h5M42 231.5h6M49 231.5h4M54 231.5h1M56 231.5h1M58 231.5h1M61 231.5h1M63 231.5h5M69 231.5h2M72 231.5h3M76 231.5h3M82 231.5h1M84 231.5h2M88 231.5h1M92 231.5h1M94 231.5h1M96 231.5h1M103 231.5h1M45 232.5h4M50 232.5h3M60 232.5h2M68 232.5h1M70 232.5h1M73 232.5h1M76 232.5h1M78 232.5h3M84 232.5h1M91 232.5h1M96 232.5h1M45 233.5h1M47 233.5h1M50 233.5h2M54 233.5h1M56 233.5h2M61 233.5h1M65 233.5h3M70 233.5h3M74 233.5h1M85 233.5h2M90 233.5h1M94 233.5h1M99 233.5h3M42 234.5h1M49 234.5h3M53 234.5h3M57 234.5h2M60 234.5h1M63 234.5h1M65 234.5h3M69 234.5h1M71 234.5h1M76 234.5h1M78 234.5h1M83 234.5h3M97 234.5h1M43 235.5h1M45 235.5h2M50 235.5h1M54 235.5h1M57 235.5h1M60 235.5h1M67 235.5h2M76 235.5h1M82 235.5h2M85 235.5h1M90 235.5h1M94 235.5h1M96 235.5h1M113 235.5h1M44 236.5h1M48 236.5h1M52 236.5h2M57 236.5h1M59 236.5h1M63 236.5h1M65 236.5h1M67 236.5h1M71 236.5h1M73 236.5h1M76 236.5h1M78 236.5h1M85 236.5h1M112 236.5h1M49 237.5h1M52 237.5h1M59 237.5h1M66 237.5h2M70 237.5h1M73 237.5h1M77 237.5h1M80 237.5h1M88 237.5h1M91 237.5h1M57 238.5h1M61 238.5h1M78 238.5h1M42 239.5h1M44 239.5h1M46 239.5h1M55 239.5h1M59 239.5h1M65 239.5h1M68 239.5h1M72 239.5h1M85 239.5h1M94 239.5h1M114 239.5h1M43 240.5h1M45 240.5h1M49 240.5h1M51 240.5h1M57 240.5h1M60 240.5h2M74 240.5h1M77 240.5h1M80 240.5h1M83 240.5h1M108 240.5h1M53 241.5h1M55 241.5h1M59 241.5h1M64 241.5h1M71 241.5h1M75 241.5h1M78 241.5h1M94 241.5h1M46 242.5h1M48 242.5h1M50 242.5h1M52 242.5h1M54 242.5h2M58 242.5h1M69 242.5h1M72 242.5h1M92 242.5h1M99 242.5h1M109 242.5h1M45 243.5h1M50 243.5h1M59 243.5h2M70 243.5h1M74 243.5h1M96 243.5h1M108 243.5h1M110 243.5h1M42 244.5h2M55 244.5h1M60 244.5h1M76 244.5h2M104 244.5h1M52 245.5h1M55 245.5h1M61 245.5h2M66 245.5h1M69 245.5h1M73 245.5h1M106 245.5h1M52 246.5h1M56 246.5h1M62 246.5h1M67 246.5h1M71 246.5h1M74 246.5h2M77 246.5h1M80 246.5h1M91 246.5h2M99 246.5h1M110 246.5h1M46 247.5h1M50 247.5h2M55 247.5h2M60 247.5h1M70 247.5h1M79 247.5h1M82 247.5h1M103 247.5h1M43 248.5h1M54 248.5h1M68 248.5h2M72 248.5h1M97 248.5h1M107 248.5h1M60 249.5h1M69 249.5h1M76 249.5h1M83 249.5h1M99 249.5h1M113 249.5h1M57 250.5h1M59 250.5h2M66 250.5h1M70 250.5h1M72 250.5h1M54 251.5h1M60 251.5h1M76 251.5h1M88 251.5h1M100 251.5h1M42 252.5h1M49 252.5h1M51 252.5h1M54 252.5h1M73 252.5h1M85 252.5h1M89 252.5h1M107 252.5h1M122 252.5h1M127 252.5h1M48 253.5h2M61 253.5h1M64 253.5h1M66 253.5h2M69 253.5h3M75 253.5h5M90 253.5h1M93 253.5h1M60 254.5h1M95 254.5h1M116 254.5h1M145 254.5h1M47 255.5h1M69 255.5h1M92 255.5h1M104 255.5h1M111 255.5h1M59 256.5h3M73 256.5h1M87 256.5h1M94 256.5h1M99 256.5h2M103 256.5h1M100 257.5h3M109 257.5h1M112 257.5h1M52 258.5h3M71 258.5h1M77 258.5h1M94 258.5h2M98 258.5h1M104 258.5h2M110 258.5h1M112 258.5h3M123 258.5h1M125 258.5h1M42 259.5h1M54 259.5h1M60 259.5h1M76 259.5h2M80 259.5h1M95 259.5h1M104 259.5h1M108 259.5h1M114 259.5h1M53 260.5h1M56 260.5h1M71 260.5h1M83 260.5h1M93 260.5h1M96 260.5h1M103 260.5h2M109 260.5h1M111 260.5h1M116 260.5h1M118 260.5h1M132 260.5h1M54 261.5h1M75 261.5h1M86 261.5h1M89 261.5h2M94 261.5h1M97 261.5h1M100 261.5h3M104 261.5h1M106 261.5h1M115 261.5h1M117 261.5h1M125 261.5h1M127 261.5h1M131 261.5h1M138 261.5h1M43 262.5h1M60 262.5h1M78 262.5h2M84 262.5h1M95 262.5h1M97 262.5h1M101 262.5h1M104 262.5h1M107 262.5h5M116 262.5h1M120 262.5h1M132 262.5h1M47 263.5h1M56 263.5h1M60 263.5h1M69 263.5h1M83 263.5h1M98 263.5h2M104 263.5h3M110 263.5h3M115 263.5h2M53 264.5h1M80 264.5h1M94 264.5h3M102 264.5h2M106 264.5h1M108 264.5h1M110 264.5h2M115 264.5h1M122 264.5h1M137 264.5h1M58 265.5h1M63 265.5h1M75 265.5h1M79 265.5h1M85 265.5h1M89 265.5h2M94 265.5h1M100 265.5h1M105 265.5h1M107 265.5h1M112 265.5h1M114 265.5h2M119 265.5h3M125 265.5h1M135 265.5h1M60 266.5h1M75 266.5h1M86 266.5h1M88 266.5h2M96 266.5h1M99 266.5h1M101 266.5h4M106 266.5h9M121 266.5h1M123 266.5h1M126 266.5h2M141 266.5h1M69 267.5h1M95 267.5h2M98 267.5h2M102 267.5h2M105 267.5h1M108 267.5h3M113 267.5h1M117 267.5h1M119 267.5h2M122 267.5h1M124 267.5h1M126 267.5h1M128 267.5h1M131 267.5h1M79 268.5h1M90 268.5h1M93 268.5h2M96 268.5h1M98 268.5h1M100 268.5h4M105 268.5h2M112 268.5h4M117 268.5h4M124 268.5h1M126 268.5h1M129 268.5h1M88 269.5h1M91 269.5h1M97 269.5h1M102 269.5h1M104 269.5h2M108 269.5h2M113 269.5h1M115 269.5h2M118 269.5h1M122 269.5h2M125 269.5h1M82 270.5h1M95 270.5h1M98 270.5h1M101 270.5h1M105 270.5h2M109 270.5h1M111 270.5h3M115 270.5h2M123 270.5h1M126 270.5h2M130 270.5h1M132 270.5h1M136 270.5h1M43 271.5h1M48 271.5h1M50 271.5h1M53 271.5h1M57 271.5h1M63 271.5h1M65 271.5h1M67 271.5h1M69 271.5h1M72 271.5h1M74 271.5h3M82 271.5h1M84 271.5h1M86 271.5h2M89 271.5h1M92 271.5h1M94 271.5h1M97 271.5h1M99 271.5h4M105 271.5h2M110 271.5h4M117 271.5h1M121 271.5h2M135 271.5h1M42 272.5h58M102 272.5h2M105 272.5h1M109 272.5h1M113 272.5h1M115 272.5h1M117 272.5h1M120 272.5h1M124 272.5h1M42 273.5h59M102 273.5h2M105 273.5h2M109 273.5h1M111 273.5h3M115 273.5h2M119 273.5h1M123 273.5h1M126 273.5h1M128 273.5h2M42 274.5h60M103 274.5h4M109 274.5h6M117 274.5h1M119 274.5h1M124 274.5h1M42 275.5h65M112 275.5h1M115 275.5h1M117 275.5h1M120 275.5h1M123 275.5h1M125 275.5h1M136 275.5h1M42 276.5h61M104 276.5h4M112 276.5h1M114 276.5h4M119 276.5h2M42 277.5h60M103 277.5h1M106 277.5h2M109 277.5h1M111 277.5h2M125 277.5h1M128 277.5h1M130 277.5h1M42 278.5h60M103 278.5h3M108 278.5h1M111 278.5h1M113 278.5h2M117 278.5h4M42 279.5h58M101 279.5h4M108 279.5h4M113 279.5h1M115 279.5h1M121 279.5h1M42 280.5h60M103 280.5h1M106 280.5h2M109 280.5h6M119 280.5h1M124 280.5h1M133 280.5h1M42 281.5h59M102 281.5h1M104 281.5h1M106 281.5h3M111 281.5h2M122 281.5h1M42 282.5h60M103 282.5h2M106 282.5h1M110 282.5h2M117 282.5h1M119 282.5h1M134 282.5h1M42 283.5h59M102 283.5h4M110 283.5h3M115 283.5h1M118 283.5h2M122 283.5h2M135 283.5h1M42 284.5h62M105 284.5h1M109 284.5h1M111 284.5h1M113 284.5h1M115 284.5h2M118 284.5h1M120 284.5h2M133 284.5h1M142 284.5h1M42 285.5h59M102 285.5h2M106 285.5h1M109 285.5h2M112 285.5h3M117 285.5h1M120 285.5h1M126 285.5h1M136 285.5h1M42 286.5h59M102 286.5h1M105 286.5h1M108 286.5h7M118 286.5h2M121 286.5h1M132 286.5h1M42 287.5h59M102 287.5h3M106 287.5h1M108 287.5h9M121 287.5h2M42 288.5h60M105 288.5h2M108 288.5h3M113 288.5h1M118 288.5h1M123 288.5h1M125 288.5h2M130 288.5h1M42 289.5h64M108 289.5h2M111 289.5h1M115 289.5h1M118 289.5h1M121 289.5h1M132 289.5h1M42 290.5h62M106 290.5h2M110 290.5h3M114 290.5h2M118 290.5h4M132 290.5h1M135 290.5h1M42 291.5h59M102 291.5h2M105 291.5h2M109 291.5h2M113 291.5h1M115 291.5h1M120 291.5h2M125 291.5h1M129 291.5h1M42 292.5h61M104 292.5h8M113 292.5h2M130 292.5h1M42 293.5h58M101 293.5h3M107 293.5h2M110 293.5h2M113 293.5h1M115 293.5h1M117 293.5h1M123 293.5h1M130 293.5h1M42 294.5h64M108 294.5h1M110 294.5h1M112 294.5h2M115 294.5h2M121 294.5h1M126 294.5h1M42 295.5h61M106 295.5h2M109 295.5h1M111 295.5h1M118 295.5h2M121 295.5h3M126 295.5h2M42 296.5h60M104 296.5h1M109 296.5h1M112 296.5h1M115 296.5h1M119 296.5h1M121 296.5h1M124 296.5h1M127 296.5h1M131 296.5h1M42 297.5h60M103 297.5h1M105 297.5h2M109 297.5h3M123 297.5h1M125 297.5h1M127 297.5h1M42 298.5h62M105 298.5h1M108 298.5h1M112 298.5h1M114 298.5h1M117 298.5h1M121 298.5h1M42 299.5h60M104 299.5h2M107 299.5h1M109 299.5h2M116 299.5h4M121 299.5h3M131 299.5h2M42 300.5h60M103 300.5h1M107 300.5h5M113 300.5h1M116 300.5h1M121 300.5h1M42 301.5h61M107 301.5h1M109 301.5h1M111 301.5h2M116 301.5h1M122 301.5h1M124 301.5h1M126 301.5h1" stroke="#000" stroke-width="1.0" fill="none"/>
<rect x="41.4" y="181.2" width="125.0" height="121.4" fill="none" stroke="#000" stroke-width="1.35"/>
<path d="M79.2 181.2V302.6M41.4 270.0H166.4" stroke="#000" stroke-width="1.8"/>
<path d="M41.40 302.6v4.0M41.4 302.60h-4.0M50.81 302.6v2.8M41.4 293.46h-2.8M56.31 302.6v2.8M41.4 288.12h-2.8M60.21 302.6v2.8M41.4 284.33h-2.8M63.24 302.6v2.8M41.4 281.39h-2.8M65.72 302.6v2.8M41.4 278.98h-2.8M67.81 302.6v2.8M41.4 276.95h-2.8M69.62 302.6v2.8M41.4 275.19h-2.8M71.22 302.6v2.8M41.4 273.64h-2.8M72.65 302.6v4.0M41.4 272.25h-4.0M82.06 302.6v2.8M41.4 263.11h-2.8M87.56 302.6v2.8M41.4 257.77h-2.8M91.46 302.6v2.8M41.4 253.98h-2.8M94.49 302.6v2.8M41.4 251.04h-2.8M96.97 302.6v2.8M41.4 248.63h-2.8M99.06 302.6v2.8M41.4 246.60h-2.8M100.87 302.6v2.8M41.4 244.84h-2.8M102.47 302.6v2.8M41.4 243.29h-2.8M103.90 302.6v4.0M41.4 241.90h-4.0M113.31 302.6v2.8M41.4 232.76h-2.8M118.81 302.6v2.8M41.4 227.42h-2.8M122.71 302.6v2.8M41.4 223.63h-2.8M125.74 302.6v2.8M41.4 220.69h-2.8M128.22 302.6v2.8M41.4 218.28h-2.8M130.31 302.6v2.8M41.4 216.25h-2.8M132.12 302.6v2.8M41.4 214.49h-2.8M133.72 302.6v2.8M41.4 212.94h-2.8M135.15 302.6v4.0M41.4 211.55h-4.0M144.56 302.6v2.8M41.4 202.41h-2.8M150.06 302.6v2.8M41.4 197.07h-2.8M153.96 302.6v2.8M41.4 193.28h-2.8M156.99 302.6v2.8M41.4 190.34h-2.8M159.47 302.6v2.8M41.4 187.93h-2.8M161.56 302.6v2.8M41.4 185.90h-2.8M163.37 302.6v2.8M41.4 184.14h-2.8M164.97 302.6v2.8M41.4 182.59h-2.8M165.40 302.6v4M41.4 181.80h-4" stroke="#000" stroke-width="1.1" fill="none"/>
<text x="42.4" y="316.6" font-size="9.2" text-anchor="middle" stroke="#222" stroke-width="0.25">10<tspan font-size="7.6" dy="-5.9">0</tspan></text>
<text x="72.9" y="316.6" font-size="9.2" text-anchor="middle" stroke="#222" stroke-width="0.25">10<tspan font-size="7.6" dy="-5.9">1</tspan></text>
<text x="104.1" y="316.6" font-size="9.2" text-anchor="middle" stroke="#222" stroke-width="0.25">10<tspan font-size="7.6" dy="-5.9">2</tspan></text>
<text x="135.3" y="316.6" font-size="9.2" text-anchor="middle" stroke="#222" stroke-width="0.25">10<tspan font-size="7.6" dy="-5.9">3</tspan></text>
<text x="164.8" y="316.6" font-size="9.2" text-anchor="middle" stroke="#222" stroke-width="0.25">10<tspan font-size="7.6" dy="-5.9">4</tspan></text>
<text transform="translate(34.2,303.4) rotate(-90)" font-size="9.2" text-anchor="middle" stroke="#222" stroke-width="0.25">10<tspan font-size="7.6" dy="-5.9">0</tspan></text>
<text transform="translate(34.2,273.1) rotate(-90)" font-size="9.2" text-anchor="middle" stroke="#222" stroke-width="0.25">10<tspan font-size="7.6" dy="-5.9">1</tspan></text>
<text transform="translate(34.2,242.7) rotate(-90)" font-size="9.2" text-anchor="middle" stroke="#222" stroke-width="0.25">10<tspan font-size="7.6" dy="-5.9">2</tspan></text>
<text transform="translate(34.2,212.4) rotate(-90)" font-size="9.2" text-anchor="middle" stroke="#222" stroke-width="0.25">10<tspan font-size="7.6" dy="-5.9">3</tspan></text>
<text transform="translate(34.2,182.0) rotate(-90)" font-size="9.2" text-anchor="middle" stroke="#222" stroke-width="0.25">10<tspan font-size="7.6" dy="-5.9">4</tspan></text>
<text x="99.4" y="336.0" font-size="17.9" font-weight="bold" text-anchor="middle" textLength="47.2" lengthAdjust="spacingAndGlyphs" style="fill:#000">SIRP</text>
<text transform="translate(16.7,241.4) rotate(-90)" font-size="18.2" font-weight="bold" text-anchor="middle" textLength="54.1" lengthAdjust="spacingAndGlyphs" style="fill:#000">CD19</text>
<path d="M295 183.5h2M270 192.5h1M252 193.5h2M233 195.5h1M246 197.5h2M272 198.5h1M275 198.5h1M277 201.5h2M268 202.5h1M279 202.5h1M265 203.5h1M264 204.5h1M267 204.5h1M274 204.5h1M248 205.5h1M255 205.5h1M267 205.5h1M273 205.5h1M280 205.5h1M286 205.5h1M274 206.5h1M261 207.5h1M266 207.5h1M273 207.5h1M277 207.5h1M285 207.5h1M239 208.5h1M256 208.5h1M264 208.5h3M268 208.5h1M270 208.5h2M277 208.5h1M260 209.5h1M266 209.5h1M269 209.5h1M271 209.5h1M273 209.5h1M279 209.5h1M255 210.5h1M261 210.5h2M265 210.5h1M267 210.5h1M270 210.5h1M274 210.5h2M281 210.5h1M238 211.5h1M247 211.5h1M259 211.5h1M263 211.5h2M267 211.5h2M271 211.5h1M235 212.5h1M265 212.5h1M268 212.5h5M274 212.5h1M277 212.5h2M280 212.5h1M288 212.5h1M243 213.5h1M254 213.5h1M264 213.5h5M273 213.5h1M275 213.5h1M282 213.5h1M263 214.5h6M270 214.5h3M274 214.5h1M276 214.5h1M281 214.5h1M235 215.5h1M256 215.5h1M262 215.5h1M265 215.5h9M276 215.5h3M280 215.5h1M282 215.5h1M286 215.5h1M236 216.5h2M260 216.5h2M265 216.5h1M267 216.5h7M275 216.5h1M286 216.5h1M251 217.5h1M259 217.5h1M262 217.5h1M265 217.5h2M269 217.5h9M238 218.5h1M257 218.5h1M265 218.5h5M272 218.5h2M276 218.5h1M283 218.5h1M237 219.5h1M241 219.5h1M260 219.5h1M262 219.5h1M264 219.5h1M266 219.5h1M268 219.5h1M270 219.5h1M273 219.5h1M278 219.5h1M281 219.5h1M239 220.5h1M242 220.5h3M263 220.5h3M267 220.5h4M272 220.5h1M275 220.5h1M277 220.5h1M284 220.5h1M258 221.5h1M262 221.5h2M265 221.5h3M269 221.5h3M273 221.5h1M275 221.5h7M284 221.5h1M232 222.5h1M234 222.5h1M240 222.5h1M265 222.5h1M267 222.5h1M269 222.5h6M276 222.5h2M280 222.5h1M224 223.5h1M235 223.5h1M237 223.5h1M239 223.5h1M253 223.5h1M256 223.5h2M260 223.5h3M265 223.5h1M267 223.5h7M275 223.5h1M279 223.5h1M291 223.5h1M225 224.5h1M238 224.5h1M257 224.5h1M264 224.5h1M266 224.5h5M272 224.5h2M276 224.5h1M296 224.5h1M235 225.5h1M237 225.5h1M239 225.5h2M243 225.5h1M252 225.5h1M257 225.5h1M265 225.5h1M268 225.5h2M271 225.5h2M274 225.5h2M278 225.5h2M281 225.5h1M226 226.5h2M236 226.5h1M240 226.5h2M243 226.5h1M245 226.5h1M264 226.5h1M266 226.5h1M268 226.5h3M272 226.5h2M275 226.5h2M286 226.5h1M241 227.5h1M243 227.5h1M248 227.5h1M265 227.5h4M270 227.5h3M274 227.5h1M277 227.5h1M235 228.5h2M238 228.5h1M242 228.5h5M249 228.5h1M263 228.5h6M271 228.5h2M275 228.5h1M232 229.5h1M239 229.5h1M241 229.5h5M248 229.5h2M253 229.5h1M255 229.5h1M266 229.5h1M270 229.5h2M276 229.5h1M281 229.5h1M230 230.5h1M233 230.5h1M237 230.5h1M239 230.5h1M243 230.5h4M250 230.5h1M253 230.5h1M257 230.5h3M262 230.5h2M267 230.5h3M271 230.5h3M275 230.5h3M279 230.5h2M284 230.5h1M286 230.5h2M289 230.5h2M219 231.5h1M230 231.5h2M237 231.5h1M239 231.5h3M244 231.5h2M251 231.5h1M253 231.5h1M259 231.5h1M261 231.5h1M265 231.5h2M268 231.5h2M272 231.5h3M277 231.5h2M281 231.5h1M288 231.5h1M216 232.5h1M236 232.5h2M239 232.5h3M244 232.5h1M248 232.5h1M255 232.5h1M261 232.5h1M263 232.5h3M269 232.5h3M273 232.5h1M276 232.5h1M278 232.5h1M286 232.5h3M290 232.5h1M232 233.5h1M234 233.5h2M237 233.5h1M239 233.5h1M243 233.5h1M245 233.5h2M248 233.5h1M255 233.5h1M257 233.5h2M260 233.5h4M268 233.5h3M272 233.5h1M275 233.5h1M277 233.5h1M279 233.5h2M284 233.5h1M290 233.5h1M216 234.5h1M239 234.5h1M241 234.5h1M244 234.5h2M248 234.5h1M255 234.5h2M258 234.5h2M265 234.5h2M268 234.5h1M272 234.5h1M275 234.5h1M281 234.5h2M284 234.5h1M286 234.5h2M291 234.5h1M226 235.5h1M232 235.5h1M238 235.5h2M241 235.5h1M243 235.5h6M252 235.5h1M255 235.5h1M259 235.5h1M265 235.5h1M269 235.5h1M271 235.5h3M279 235.5h1M282 235.5h1M286 235.5h1M288 235.5h1M217 236.5h1M231 236.5h1M235 236.5h1M241 236.5h1M245 236.5h3M261 236.5h1M263 236.5h2M270 236.5h3M276 236.5h1M279 236.5h2M216 237.5h1M228 237.5h1M242 237.5h5M248 237.5h1M250 237.5h1M257 237.5h2M260 237.5h1M265 237.5h2M269 237.5h2M272 237.5h2M276 237.5h2M287 237.5h1M220 238.5h1M233 238.5h1M242 238.5h4M248 238.5h2M259 238.5h1M269 238.5h1M272 238.5h1M275 238.5h2M287 238.5h1M216 239.5h1M224 239.5h1M231 239.5h1M240 239.5h1M242 239.5h3M246 239.5h4M254 239.5h1M256 239.5h1M266 239.5h2M274 239.5h1M277 239.5h2M220 240.5h1M225 240.5h1M237 240.5h1M241 240.5h6M248 240.5h2M254 240.5h4M260 240.5h1M264 240.5h1M268 240.5h1M278 240.5h1M280 240.5h1M282 240.5h1M290 240.5h1M239 241.5h1M241 241.5h1M243 241.5h1M245 241.5h1M247 241.5h5M254 241.5h2M265 241.5h1M268 241.5h1M272 241.5h1M280 241.5h1M283 241.5h1M287 241.5h1M221 242.5h1M228 242.5h1M230 242.5h1M237 242.5h1M241 242.5h2M244 242.5h6M251 242.5h1M253 242.5h1M256 242.5h1M261 242.5h1M263 242.5h1M266 242.5h1M273 242.5h1M275 242.5h1M279 242.5h1M282 242.5h1M290 242.5h1M229 243.5h1M237 243.5h1M239 243.5h5M245 243.5h3M249 243.5h1M263 243.5h1M265 243.5h1M267 243.5h1M271 243.5h1M217 244.5h1M222 244.5h1M239 244.5h1M244 244.5h5M250 244.5h1M253 244.5h2M257 244.5h1M261 244.5h1M263 244.5h1M272 244.5h2M290 244.5h1M220 245.5h1M240 245.5h3M244 245.5h2M247 245.5h2M253 245.5h1M261 245.5h1M265 245.5h1M270 245.5h2M281 245.5h1M287 245.5h2M216 246.5h1M219 246.5h3M235 246.5h2M239 246.5h1M243 246.5h7M251 246.5h2M268 246.5h1M275 246.5h1M279 246.5h1M283 246.5h1M288 246.5h2M294 246.5h1M217 247.5h1M227 247.5h2M233 247.5h1M240 247.5h8M249 247.5h3M263 247.5h1M276 247.5h1M280 247.5h2M283 247.5h1M289 247.5h2M220 248.5h3M236 248.5h1M241 248.5h1M244 248.5h1M246 248.5h3M250 248.5h1M253 248.5h1M262 248.5h1M267 248.5h2M270 248.5h1M280 248.5h2M284 248.5h3M290 248.5h1M296 248.5h1M236 249.5h1M243 249.5h8M255 249.5h3M259 249.5h1M264 249.5h2M270 249.5h1M272 249.5h1M274 249.5h1M288 249.5h1M298 249.5h1M226 250.5h1M241 250.5h1M244 250.5h5M262 250.5h1M267 250.5h1M272 250.5h1M276 250.5h1M281 250.5h1M287 250.5h1M219 251.5h1M224 251.5h1M241 251.5h1M243 251.5h1M245 251.5h6M261 251.5h3M266 251.5h1M271 251.5h1M277 251.5h1M287 251.5h1M296 251.5h1M216 252.5h1M232 252.5h1M237 252.5h1M242 252.5h10M254 252.5h2M262 252.5h2M269 252.5h3M273 252.5h2M276 252.5h1M279 252.5h1M284 252.5h2M288 252.5h1M300 252.5h1M239 253.5h1M242 253.5h1M245 253.5h2M248 253.5h1M250 253.5h3M254 253.5h1M257 253.5h1M263 253.5h2M268 253.5h1M270 253.5h2M281 253.5h1M286 253.5h1M288 253.5h1M238 254.5h1M245 254.5h1M249 254.5h1M251 254.5h2M256 254.5h1M270 254.5h1M275 254.5h1M278 254.5h1M286 254.5h1M289 254.5h2M220 255.5h1M227 255.5h1M243 255.5h1M245 255.5h5M251 255.5h1M254 255.5h2M258 255.5h2M261 255.5h1M270 255.5h1M272 255.5h1M277 255.5h1M280 255.5h1M282 255.5h1M287 255.5h2M290 255.5h1M293 255.5h1M296 255.5h1M220 256.5h1M223 256.5h1M225 256.5h1M235 256.5h1M238 256.5h1M245 256.5h2M249 256.5h1M251 256.5h2M254 256.5h1M260 256.5h2M264 256.5h2M269 256.5h2M274 256.5h1M277 256.5h1M292 256.5h1M296 256.5h2M299 256.5h2M218 257.5h3M233 257.5h1M239 257.5h1M242 257.5h1M245 257.5h3M249 257.5h1M251 257.5h1M254 257.5h1M262 257.5h2M266 257.5h1M270 257.5h1M272 257.5h1M274 257.5h1M276 257.5h1M278 257.5h2M281 257.5h1M286 257.5h1M296 257.5h1M223 258.5h1M227 258.5h1M237 258.5h2M245 258.5h2M250 258.5h1M255 258.5h1M258 258.5h1M264 258.5h2M268 258.5h1M270 258.5h1M274 258.5h2M277 258.5h1M279 258.5h1M286 258.5h1M296 258.5h2M299 258.5h1M217 259.5h1M223 259.5h1M238 259.5h1M243 259.5h1M245 259.5h1M248 259.5h2M252 259.5h2M258 259.5h1M262 259.5h2M268 259.5h1M270 259.5h1M275 259.5h1M277 259.5h1M281 259.5h1M285 259.5h2M292 259.5h4M218 260.5h1M223 260.5h1M227 260.5h2M240 260.5h1M252 260.5h1M255 260.5h2M265 260.5h2M271 260.5h1M277 260.5h1M279 260.5h1M288 260.5h1M291 260.5h1M297 260.5h3M301 260.5h2M227 261.5h1M242 261.5h2M246 261.5h1M248 261.5h2M251 261.5h1M255 261.5h1M260 261.5h1M267 261.5h1M271 261.5h1M273 261.5h1M279 261.5h1M282 261.5h3M286 261.5h1M288 261.5h2M294 261.5h1M216 262.5h1M221 262.5h1M224 262.5h2M239 262.5h1M245 262.5h1M251 262.5h3M257 262.5h1M259 262.5h2M264 262.5h1M266 262.5h1M270 262.5h1M272 262.5h1M277 262.5h1M286 262.5h4M291 262.5h1M293 262.5h1M298 262.5h1M232 263.5h1M235 263.5h1M248 263.5h2M253 263.5h1M257 263.5h2M263 263.5h1M279 263.5h2M291 263.5h2M295 263.5h1M297 263.5h2M309 263.5h1M217 264.5h1M220 264.5h1M243 264.5h2M246 264.5h2M254 264.5h1M260 264.5h1M270 264.5h2M275 264.5h1M280 264.5h1M287 264.5h3M291 264.5h1M294 264.5h2M229 265.5h2M233 265.5h1M245 265.5h1M248 265.5h1M251 265.5h1M255 265.5h2M261 265.5h1M265 265.5h1M271 265.5h1M273 265.5h1M275 265.5h1M277 265.5h1M279 265.5h3M284 265.5h2M290 265.5h1M292 265.5h1M294 265.5h2M299 265.5h1M304 265.5h1M226 266.5h1M236 266.5h1M238 266.5h1M247 266.5h3M251 266.5h1M253 266.5h1M256 266.5h1M262 266.5h1M265 266.5h1M270 266.5h2M274 266.5h2M279 266.5h1M283 266.5h3M287 266.5h1M289 266.5h1M293 266.5h2M296 266.5h1M299 266.5h2M306 266.5h1M216 267.5h1M220 267.5h3M226 267.5h1M230 267.5h3M234 267.5h1M241 267.5h1M246 267.5h2M253 267.5h1M261 267.5h1M265 267.5h1M267 267.5h1M275 267.5h1M282 267.5h1M286 267.5h1M289 267.5h1M292 267.5h1M294 267.5h1M300 267.5h1M308 267.5h1M220 268.5h2M225 268.5h1M227 268.5h1M229 268.5h1M235 268.5h1M238 268.5h1M248 268.5h1M252 268.5h2M259 268.5h1M265 268.5h3M269 268.5h3M275 268.5h2M278 268.5h1M282 268.5h1M286 268.5h4M292 268.5h4M297 268.5h1M299 268.5h1M302 268.5h1M278 269.5h1M282 269.5h1M284 269.5h1M286 269.5h2M289 269.5h1M291 269.5h4M296 269.5h5M253 270.5h1M273 270.5h2M276 270.5h2M280 270.5h1M285 270.5h1M287 270.5h1M289 270.5h1M295 270.5h1M299 270.5h1M305 270.5h1M308 270.5h1M220 271.5h1M222 271.5h1M224 271.5h1M237 271.5h1M241 271.5h1M245 271.5h1M252 271.5h1M254 271.5h2M258 271.5h2M269 271.5h1M273 271.5h2M277 271.5h2M280 271.5h1M293 271.5h3M297 271.5h1M299 271.5h1M216 272.5h60M277 272.5h1M279 272.5h3M285 272.5h1M289 272.5h1M291 272.5h1M295 272.5h2M302 272.5h1M309 272.5h1M216 273.5h59M276 273.5h1M286 273.5h1M289 273.5h1M291 273.5h2M294 273.5h1M301 273.5h1M216 274.5h59M276 274.5h1M280 274.5h2M283 274.5h1M286 274.5h6M293 274.5h1M296 274.5h3M305 274.5h1M216 275.5h62M279 275.5h1M284 275.5h1M286 275.5h2M291 275.5h2M295 275.5h2M301 275.5h1M303 275.5h1M216 276.5h61M278 276.5h2M281 276.5h1M284 276.5h1M286 276.5h1M290 276.5h1M294 276.5h1M298 276.5h1M216 277.5h61M278 277.5h2M282 277.5h1M284 277.5h1M286 277.5h1M288 277.5h1M292 277.5h3M297 277.5h2M300 277.5h1M216 278.5h63M281 278.5h1M286 278.5h1M288 278.5h4M295 278.5h3M306 278.5h1M216 279.5h64M282 279.5h5M292 279.5h1M300 279.5h1M216 280.5h59M277 280.5h1M279 280.5h2M283 280.5h2M286 280.5h2M289 280.5h3M294 280.5h1M296 280.5h1M298 280.5h1M301 280.5h2M216 281.5h62M279 281.5h1M282 281.5h1M287 281.5h2M290 281.5h2M294 281.5h1M296 281.5h1M302 281.5h1M304 281.5h1M216 282.5h60M277 282.5h1M279 282.5h3M285 282.5h2M293 282.5h1M295 282.5h3M303 282.5h2M216 283.5h60M277 283.5h4M283 283.5h1M285 283.5h1M287 283.5h1M290 283.5h1M294 283.5h1M296 283.5h2M301 283.5h1M303 283.5h1M320 283.5h1M216 284.5h64M281 284.5h1M283 284.5h2M286 284.5h1M288 284.5h1M290 284.5h3M295 284.5h1M299 284.5h1M309 284.5h1M216 285.5h60M278 285.5h1M280 285.5h1M282 285.5h1M285 285.5h2M290 285.5h1M293 285.5h1M295 285.5h1M297 285.5h1M216 286.5h60M278 286.5h2M282 286.5h1M284 286.5h1M288 286.5h3M294 286.5h1M216 287.5h62M279 287.5h2M284 287.5h1M288 287.5h3M293 287.5h1M298 287.5h1M216 288.5h64M281 288.5h2M284 288.5h2M287 288.5h1M291 288.5h2M294 288.5h1M297 288.5h1M302 288.5h1M305 288.5h1M307 288.5h1M216 289.5h66M284 289.5h1M287 289.5h2M290 289.5h1M292 289.5h1M294 289.5h1M296 289.5h1M216 290.5h61M278 290.5h2M283 290.5h1M293 290.5h1M298 290.5h1M306 290.5h1M216 291.5h64M287 291.5h2M290 291.5h1M293 291.5h1M300 291.5h1M304 291.5h1M216 292.5h63M280 292.5h1M282 292.5h1M284 292.5h5M291 292.5h1M293 292.5h2M298 292.5h1M304 292.5h1M314 292.5h1M216 293.5h68M286 293.5h4M293 293.5h3M299 293.5h1M307 293.5h1M216 294.5h64M281 294.5h2M284 294.5h1M286 294.5h2M291 294.5h1M293 294.5h3M297 294.5h1M300 294.5h1M216 295.5h64M290 295.5h4M295 295.5h2M302 295.5h1M305 295.5h1M309 295.5h1M216 296.5h60M278 296.5h1M280 296.5h2M283 296.5h3M287 296.5h1M292 296.5h1M298 296.5h1M216 297.5h64M281 297.5h3M286 297.5h1M290 297.5h1M294 297.5h1M297 297.5h1M309 297.5h1M216 298.5h61M278 298.5h2M282 298.5h1M285 298.5h2M290 298.5h1M294 298.5h1M307 298.5h1M216 299.5h61M278 299.5h2M282 299.5h1M288 299.5h1M291 299.5h2M296 299.5h2M299 299.5h1M306 299.5h1M317 299.5h1M216 300.5h63M280 300.5h1M284 300.5h1M288 300.5h1M297 300.5h1M300 300.5h1M216 301.5h65M290 301.5h1" stroke="#000" stroke-width="1.0" fill="none"/>
<rect x="215.2" y="181.0" width="124.2" height="121.3" fill="none" stroke="#000" stroke-width="1.35"/>
<path d="M252.6 181.0V302.3M215.2 269.3H339.4" stroke="#000" stroke-width="1.8"/>
<path d="M215.20 302.3v4.0M215.2 302.30h-4.0M224.55 302.3v2.8M215.2 293.17h-2.8M230.01 302.3v2.8M215.2 287.83h-2.8M233.89 302.3v2.8M215.2 284.04h-2.8M236.90 302.3v2.8M215.2 281.10h-2.8M239.36 302.3v2.8M215.2 278.70h-2.8M241.44 302.3v2.8M215.2 276.67h-2.8M243.24 302.3v2.8M215.2 274.91h-2.8M244.83 302.3v2.8M215.2 273.36h-2.8M246.25 302.3v4.0M215.2 271.98h-4.0M255.60 302.3v2.8M215.2 262.85h-2.8M261.06 302.3v2.8M215.2 257.51h-2.8M264.94 302.3v2.8M215.2 253.72h-2.8M267.95 302.3v2.8M215.2 250.78h-2.8M270.41 302.3v2.8M215.2 248.38h-2.8M272.49 302.3v2.8M215.2 246.35h-2.8M274.29 302.3v2.8M215.2 244.59h-2.8M275.88 302.3v2.8M215.2 243.04h-2.8M277.30 302.3v4.0M215.2 241.65h-4.0M286.65 302.3v2.8M215.2 232.52h-2.8M292.11 302.3v2.8M215.2 227.18h-2.8M295.99 302.3v2.8M215.2 223.39h-2.8M299.00 302.3v2.8M215.2 220.45h-2.8M301.46 302.3v2.8M215.2 218.05h-2.8M303.54 302.3v2.8M215.2 216.02h-2.8M305.34 302.3v2.8M215.2 214.26h-2.8M306.93 302.3v2.8M215.2 212.71h-2.8M308.35 302.3v4.0M215.2 211.32h-4.0M317.70 302.3v2.8M215.2 202.20h-2.8M323.16 302.3v2.8M215.2 196.86h-2.8M327.04 302.3v2.8M215.2 193.07h-2.8M330.05 302.3v2.8M215.2 190.13h-2.8M332.51 302.3v2.8M215.2 187.73h-2.8M334.59 302.3v2.8M215.2 185.70h-2.8M336.39 302.3v2.8M215.2 183.94h-2.8M337.98 302.3v2.8M215.2 182.39h-2.8M338.40 302.3v4M215.2 181.60h-4" stroke="#000" stroke-width="1.1" fill="none"/>
<text x="216.2" y="316.3" font-size="9.2" text-anchor="middle" stroke="#222" stroke-width="0.25">10<tspan font-size="7.6" dy="-5.9">0</tspan></text>
<text x="246.4" y="316.3" font-size="9.2" text-anchor="middle" stroke="#222" stroke-width="0.25">10<tspan font-size="7.6" dy="-5.9">1</tspan></text>
<text x="277.5" y="316.3" font-size="9.2" text-anchor="middle" stroke="#222" stroke-width="0.25">10<tspan font-size="7.6" dy="-5.9">2</tspan></text>
<text x="308.5" y="316.3" font-size="9.2" text-anchor="middle" stroke="#222" stroke-width="0.25">10<tspan font-size="7.6" dy="-5.9">3</tspan></text>
<text x="337.8" y="316.3" font-size="9.2" text-anchor="middle" stroke="#222" stroke-width="0.25">10<tspan font-size="7.6" dy="-5.9">4</tspan></text>
<text transform="translate(208.0,303.1) rotate(-90)" font-size="9.2" text-anchor="middle" stroke="#222" stroke-width="0.25">10<tspan font-size="7.6" dy="-5.9">0</tspan></text>
<text transform="translate(208.0,272.8) rotate(-90)" font-size="9.2" text-anchor="middle" stroke="#222" stroke-width="0.25">10<tspan font-size="7.6" dy="-5.9">1</tspan></text>
<text transform="translate(208.0,242.5) rotate(-90)" font-size="9.2" text-anchor="middle" stroke="#222" stroke-width="0.25">10<tspan font-size="7.6" dy="-5.9">2</tspan></text>
<text transform="translate(208.0,212.1) rotate(-90)" font-size="9.2" text-anchor="middle" stroke="#222" stroke-width="0.25">10<tspan font-size="7.6" dy="-5.9">3</tspan></text>
<text transform="translate(208.0,181.8) rotate(-90)" font-size="9.2" text-anchor="middle" stroke="#222" stroke-width="0.25">10<tspan font-size="7.6" dy="-5.9">4</tspan></text>
<text x="272.6" y="334.6" font-size="17.9" font-weight="bold" text-anchor="middle" textLength="47.0" lengthAdjust="spacingAndGlyphs" style="fill:#000">SIRP</text>
<text transform="translate(192.0,244.1) rotate(-90)" font-size="18.2" font-weight="bold" text-anchor="middle" textLength="63.7" lengthAdjust="spacingAndGlyphs" style="fill:#000">CD117</text>
<path d="M443 209.5h1M450 211.5h1M431 212.5h1M433 212.5h1M420 214.5h1M436 214.5h1M441 214.5h1M437 215.5h3M445 215.5h1M429 216.5h1M440 216.5h1M443 216.5h2M446 216.5h1M452 216.5h1M423 217.5h1M425 217.5h1M434 217.5h1M438 217.5h1M445 217.5h2M432 218.5h1M434 218.5h1M441 218.5h1M444 218.5h1M449 218.5h1M404 219.5h1M428 219.5h1M430 219.5h1M435 219.5h2M443 219.5h1M447 219.5h2M430 220.5h2M434 220.5h1M436 220.5h1M438 220.5h1M440 220.5h1M446 220.5h2M449 220.5h1M460 220.5h1M423 221.5h1M427 221.5h1M432 221.5h1M438 221.5h1M441 221.5h1M443 221.5h4M449 221.5h1M404 222.5h1M430 222.5h1M435 222.5h2M439 222.5h2M443 222.5h1M445 222.5h2M449 222.5h1M460 222.5h1M423 223.5h1M434 223.5h1M438 223.5h1M441 223.5h2M445 223.5h1M451 223.5h1M453 223.5h1M455 223.5h1M409 224.5h1M426 224.5h1M429 224.5h3M434 224.5h2M437 224.5h2M440 224.5h4M445 224.5h3M426 225.5h1M428 225.5h1M430 225.5h3M435 225.5h2M442 225.5h2M451 225.5h1M456 225.5h1M426 226.5h1M430 226.5h1M432 226.5h1M435 226.5h1M438 226.5h2M442 226.5h2M449 226.5h1M427 227.5h1M430 227.5h2M434 227.5h4M440 227.5h2M443 227.5h4M450 227.5h1M452 227.5h2M458 227.5h1M425 228.5h1M428 228.5h1M430 228.5h1M432 228.5h16M450 228.5h3M455 228.5h1M426 229.5h1M428 229.5h2M431 229.5h2M434 229.5h6M441 229.5h2M445 229.5h1M447 229.5h1M453 229.5h1M395 230.5h1M413 230.5h1M419 230.5h1M425 230.5h2M428 230.5h7M436 230.5h10M447 230.5h2M456 230.5h1M424 231.5h1M427 231.5h1M429 231.5h4M434 231.5h3M438 231.5h4M443 231.5h5M449 231.5h3M455 231.5h1M403 232.5h2M410 232.5h1M412 232.5h1M417 232.5h2M420 232.5h3M428 232.5h6M435 232.5h10M446 232.5h5M453 232.5h3M405 233.5h1M410 233.5h1M425 233.5h3M429 233.5h1M432 233.5h12M445 233.5h6M452 233.5h3M456 233.5h2M406 234.5h1M423 234.5h1M426 234.5h1M428 234.5h1M431 234.5h13M445 234.5h2M448 234.5h1M453 234.5h1M456 234.5h1M418 235.5h1M424 235.5h2M427 235.5h16M445 235.5h2M450 235.5h1M454 235.5h1M395 236.5h1M408 236.5h1M415 236.5h1M418 236.5h1M423 236.5h1M425 236.5h2M430 236.5h12M443 236.5h2M446 236.5h2M451 236.5h2M455 236.5h4M461 236.5h1M400 237.5h1M402 237.5h1M404 237.5h1M409 237.5h1M411 237.5h2M417 237.5h1M420 237.5h1M426 237.5h5M432 237.5h13M448 237.5h7M456 237.5h1M413 238.5h1M418 238.5h1M420 238.5h2M424 238.5h1M426 238.5h3M430 238.5h13M444 238.5h2M447 238.5h1M450 238.5h2M455 238.5h1M459 238.5h1M405 239.5h1M424 239.5h1M427 239.5h2M431 239.5h10M442 239.5h1M444 239.5h4M450 239.5h1M454 239.5h2M459 239.5h1M393 240.5h1M395 240.5h1M398 240.5h1M404 240.5h1M409 240.5h1M411 240.5h1M413 240.5h2M421 240.5h1M424 240.5h1M427 240.5h1M431 240.5h12M444 240.5h5M452 240.5h1M458 240.5h1M461 240.5h1M398 241.5h1M404 241.5h1M415 241.5h1M418 241.5h1M427 241.5h20M450 241.5h2M455 241.5h1M461 241.5h1M403 242.5h1M407 242.5h1M410 242.5h2M413 242.5h2M417 242.5h1M420 242.5h1M427 242.5h3M432 242.5h1M434 242.5h7M444 242.5h2M447 242.5h1M452 242.5h1M454 242.5h2M461 242.5h1M393 243.5h1M406 243.5h2M415 243.5h1M418 243.5h2M425 243.5h1M427 243.5h2M430 243.5h5M436 243.5h6M443 243.5h2M446 243.5h1M452 243.5h1M454 243.5h2M457 243.5h1M460 243.5h1M398 244.5h1M400 244.5h1M406 244.5h2M409 244.5h2M416 244.5h1M426 244.5h4M431 244.5h5M437 244.5h5M444 244.5h6M463 244.5h1M397 245.5h1M404 245.5h1M418 245.5h1M421 245.5h1M425 245.5h1M427 245.5h1M429 245.5h2M432 245.5h2M435 245.5h1M437 245.5h1M439 245.5h3M444 245.5h1M447 245.5h3M456 245.5h1M463 245.5h1M394 246.5h1M401 246.5h1M409 246.5h1M411 246.5h2M414 246.5h1M424 246.5h1M426 246.5h4M431 246.5h3M438 246.5h3M442 246.5h3M448 246.5h3M452 246.5h3M456 246.5h3M400 247.5h1M403 247.5h1M406 247.5h1M421 247.5h2M424 247.5h2M430 247.5h3M434 247.5h3M438 247.5h1M440 247.5h2M447 247.5h1M450 247.5h1M454 247.5h1M456 247.5h2M461 247.5h1M407 248.5h1M409 248.5h1M413 248.5h1M416 248.5h2M420 248.5h1M426 248.5h2M431 248.5h1M433 248.5h3M437 248.5h2M440 248.5h1M446 248.5h1M449 248.5h1M455 248.5h1M459 248.5h1M469 248.5h1M408 249.5h1M411 249.5h1M414 249.5h2M417 249.5h1M421 249.5h1M425 249.5h1M428 249.5h1M430 249.5h6M440 249.5h3M445 249.5h1M449 249.5h1M451 249.5h1M457 249.5h1M459 249.5h2M413 250.5h1M416 250.5h1M429 250.5h1M432 250.5h3M437 250.5h1M439 250.5h1M441 250.5h2M444 250.5h3M451 250.5h2M457 250.5h1M394 251.5h1M400 251.5h2M407 251.5h2M414 251.5h2M421 251.5h2M426 251.5h1M428 251.5h2M431 251.5h1M433 251.5h1M435 251.5h3M444 251.5h1M446 251.5h1M458 251.5h1M463 251.5h1M397 252.5h1M402 252.5h3M408 252.5h1M410 252.5h1M412 252.5h1M415 252.5h2M422 252.5h2M426 252.5h1M430 252.5h1M433 252.5h8M443 252.5h2M452 252.5h1M454 252.5h2M462 252.5h1M481 252.5h1M398 253.5h1M402 253.5h1M406 253.5h3M411 253.5h1M415 253.5h2M419 253.5h1M421 253.5h2M429 253.5h1M431 253.5h2M435 253.5h6M446 253.5h1M451 253.5h1M457 253.5h1M462 253.5h1M397 254.5h1M402 254.5h1M407 254.5h2M411 254.5h1M416 254.5h1M418 254.5h1M422 254.5h1M426 254.5h1M432 254.5h3M440 254.5h2M445 254.5h2M448 254.5h1M450 254.5h1M453 254.5h1M462 254.5h1M392 255.5h1M397 255.5h1M407 255.5h2M413 255.5h1M425 255.5h1M428 255.5h2M431 255.5h1M436 255.5h1M439 255.5h3M444 255.5h1M446 255.5h2M450 255.5h1M459 255.5h1M462 255.5h2M471 255.5h1M408 256.5h1M411 256.5h1M424 256.5h1M427 256.5h3M431 256.5h2M434 256.5h2M439 256.5h3M444 256.5h1M449 256.5h1M451 256.5h2M455 256.5h1M457 256.5h2M460 256.5h3M465 256.5h1M475 256.5h1M394 257.5h2M405 257.5h2M409 257.5h2M415 257.5h1M418 257.5h1M422 257.5h1M430 257.5h2M434 257.5h3M438 257.5h1M440 257.5h1M446 257.5h1M449 257.5h1M455 257.5h1M459 257.5h1M463 257.5h2M399 258.5h1M405 258.5h1M409 258.5h1M411 258.5h1M413 258.5h1M421 258.5h1M426 258.5h1M428 258.5h1M431 258.5h3M437 258.5h4M442 258.5h3M446 258.5h1M451 258.5h2M458 258.5h1M461 258.5h1M464 258.5h1M466 258.5h1M468 258.5h1M474 258.5h1M487 258.5h1M401 259.5h1M413 259.5h1M417 259.5h6M424 259.5h2M429 259.5h4M435 259.5h2M439 259.5h2M442 259.5h1M444 259.5h1M446 259.5h2M450 259.5h4M458 259.5h2M467 259.5h1M389 260.5h1M397 260.5h1M403 260.5h1M406 260.5h1M414 260.5h1M419 260.5h1M423 260.5h2M428 260.5h4M434 260.5h1M439 260.5h1M442 260.5h1M449 260.5h1M453 260.5h1M455 260.5h1M460 260.5h1M462 260.5h1M464 260.5h2M467 260.5h3M474 260.5h1M397 261.5h1M400 261.5h1M407 261.5h1M409 261.5h2M412 261.5h1M414 261.5h1M416 261.5h3M420 261.5h2M426 261.5h4M441 261.5h1M446 261.5h1M448 261.5h3M456 261.5h4M462 261.5h1M466 261.5h1M468 261.5h2M473 261.5h1M394 262.5h2M397 262.5h1M407 262.5h1M411 262.5h1M420 262.5h1M423 262.5h2M426 262.5h4M438 262.5h2M442 262.5h1M448 262.5h4M458 262.5h3M463 262.5h4M468 262.5h1M471 262.5h2M475 262.5h1M478 262.5h1M395 263.5h1M400 263.5h1M403 263.5h4M411 263.5h1M413 263.5h2M416 263.5h1M421 263.5h3M425 263.5h1M427 263.5h3M431 263.5h1M433 263.5h1M437 263.5h2M442 263.5h1M444 263.5h4M450 263.5h1M453 263.5h1M455 263.5h1M457 263.5h1M460 263.5h2M465 263.5h1M411 264.5h1M414 264.5h2M417 264.5h2M422 264.5h1M424 264.5h2M427 264.5h1M429 264.5h1M432 264.5h2M437 264.5h3M443 264.5h1M447 264.5h2M453 264.5h2M457 264.5h1M459 264.5h1M462 264.5h1M466 264.5h4M472 264.5h1M478 264.5h1M403 265.5h1M408 265.5h1M412 265.5h1M415 265.5h1M418 265.5h1M421 265.5h1M424 265.5h1M426 265.5h5M432 265.5h1M434 265.5h3M446 265.5h1M448 265.5h1M450 265.5h1M452 265.5h2M457 265.5h1M459 265.5h2M462 265.5h1M464 265.5h1M466 265.5h2M470 265.5h1M476 265.5h1M389 266.5h1M397 266.5h1M406 266.5h1M411 266.5h1M413 266.5h2M420 266.5h2M425 266.5h1M428 266.5h2M432 266.5h1M435 266.5h1M437 266.5h1M446 266.5h1M449 266.5h1M451 266.5h1M453 266.5h2M456 266.5h1M459 266.5h1M462 266.5h1M467 266.5h2M474 266.5h1M392 267.5h1M401 267.5h1M413 267.5h1M418 267.5h1M427 267.5h2M433 267.5h1M435 267.5h2M438 267.5h1M442 267.5h1M444 267.5h1M446 267.5h1M448 267.5h1M451 267.5h1M455 267.5h1M462 267.5h1M465 267.5h1M467 267.5h5M473 267.5h2M477 267.5h1M392 268.5h2M407 268.5h1M409 268.5h1M411 268.5h1M415 268.5h1M417 268.5h3M423 268.5h2M426 268.5h3M434 268.5h1M439 268.5h2M442 268.5h2M446 268.5h1M449 268.5h3M456 268.5h1M458 268.5h1M461 268.5h1M463 268.5h1M465 268.5h7M475 268.5h1M407 269.5h1M411 269.5h1M414 269.5h1M421 269.5h1M430 269.5h1M432 269.5h2M435 269.5h1M442 269.5h1M448 269.5h1M450 269.5h1M455 269.5h2M458 269.5h3M464 269.5h1M466 269.5h2M470 269.5h1M473 269.5h2M476 269.5h1M397 270.5h1M401 270.5h1M409 270.5h1M412 270.5h1M415 270.5h1M417 270.5h4M431 270.5h1M434 270.5h2M437 270.5h1M450 270.5h1M452 270.5h1M454 270.5h2M459 270.5h2M464 270.5h1M466 270.5h1M468 270.5h4M473 270.5h1M481 270.5h1M390 271.5h1M394 271.5h6M401 271.5h1M403 271.5h4M408 271.5h1M410 271.5h1M412 271.5h6M420 271.5h1M422 271.5h3M426 271.5h4M431 271.5h9M441 271.5h1M444 271.5h1M446 271.5h1M455 271.5h1M460 271.5h1M462 271.5h1M466 271.5h1M470 271.5h2M473 271.5h1M389 272.5h59M450 272.5h2M457 272.5h1M459 272.5h1M461 272.5h1M463 272.5h7M471 272.5h1M473 272.5h2M481 272.5h1M389 273.5h56M448 273.5h1M450 273.5h5M456 273.5h1M459 273.5h1M462 273.5h4M467 273.5h1M469 273.5h3M476 273.5h1M389 274.5h55M445 274.5h1M448 274.5h2M451 274.5h1M455 274.5h1M458 274.5h5M464 274.5h1M466 274.5h1M468 274.5h1M472 274.5h1M476 274.5h1M389 275.5h58M448 275.5h4M454 275.5h1M461 275.5h1M464 275.5h4M471 275.5h1M473 275.5h1M477 275.5h1M485 275.5h1M389 276.5h61M454 276.5h3M458 276.5h1M462 276.5h1M464 276.5h2M467 276.5h1M473 276.5h1M478 276.5h1M389 277.5h55M445 277.5h2M451 277.5h3M456 277.5h2M459 277.5h4M467 277.5h1M470 277.5h3M389 278.5h58M450 278.5h1M458 278.5h1M461 278.5h5M468 278.5h2M389 279.5h62M452 279.5h2M457 279.5h1M462 279.5h1M464 279.5h1M467 279.5h1M470 279.5h1M472 279.5h1M389 280.5h65M455 280.5h1M457 280.5h1M459 280.5h2M462 280.5h4M469 280.5h3M475 280.5h1M482 280.5h1M389 281.5h58M448 281.5h1M450 281.5h2M453 281.5h1M455 281.5h1M457 281.5h1M459 281.5h1M461 281.5h2M465 281.5h1M467 281.5h3M389 282.5h57M447 282.5h2M450 282.5h6M457 282.5h2M460 282.5h3M464 282.5h1M466 282.5h1M389 283.5h58M450 283.5h2M453 283.5h1M458 283.5h5M467 283.5h1M469 283.5h2M389 284.5h61M451 284.5h1M454 284.5h4M460 284.5h2M463 284.5h1M466 284.5h2M469 284.5h1M389 285.5h57M447 285.5h1M449 285.5h3M453 285.5h1M456 285.5h2M459 285.5h1M461 285.5h1M467 285.5h2M472 285.5h1M389 286.5h57M449 286.5h13M465 286.5h2M471 286.5h1M389 287.5h59M449 287.5h2M453 287.5h1M455 287.5h2M463 287.5h1M466 287.5h1M472 287.5h1M389 288.5h61M458 288.5h1M462 288.5h1M467 288.5h1M475 288.5h1M389 289.5h59M449 289.5h1M451 289.5h3M456 289.5h1M458 289.5h3M463 289.5h1M389 290.5h58M448 290.5h1M450 290.5h6M460 290.5h1M476 290.5h1M389 291.5h59M450 291.5h4M389 292.5h58M448 292.5h5M454 292.5h1M457 292.5h1M463 292.5h1M389 293.5h57M450 293.5h1M452 293.5h1M454 293.5h2M457 293.5h4M468 293.5h1M389 294.5h58M449 294.5h2M453 294.5h1M455 294.5h2M458 294.5h2M461 294.5h1M463 294.5h1M467 294.5h2M389 295.5h56M446 295.5h5M459 295.5h1M389 296.5h59M451 296.5h1M455 296.5h2M458 296.5h2M465 296.5h1M389 297.5h56M446 297.5h1M450 297.5h3M455 297.5h1M458 297.5h2M463 297.5h1M389 298.5h58M449 298.5h1M451 298.5h2M454 298.5h2M457 298.5h1M461 298.5h1M389 299.5h56M446 299.5h1M451 299.5h1M460 299.5h3M389 300.5h56M446 300.5h2M450 300.5h1M455 300.5h1M463 300.5h1M467 300.5h1" stroke="#000" stroke-width="1.0" fill="none"/>
<rect x="388.6" y="180.8" width="123.6" height="121.2" fill="none" stroke="#000" stroke-width="1.35"/>
<path d="M424.9 180.8V302.0M388.6 269.3H512.2" stroke="#000" stroke-width="1.8"/>
<path d="M388.60 302.0v4.0M388.6 302.00h-4.0M397.90 302.0v2.8M388.6 292.88h-2.8M403.34 302.0v2.8M388.6 287.54h-2.8M407.20 302.0v2.8M388.6 283.76h-2.8M410.20 302.0v2.8M388.6 280.82h-2.8M412.64 302.0v2.8M388.6 278.42h-2.8M414.71 302.0v2.8M388.6 276.39h-2.8M416.51 302.0v2.8M388.6 274.64h-2.8M418.09 302.0v2.8M388.6 273.09h-2.8M419.50 302.0v4.0M388.6 271.70h-4.0M428.80 302.0v2.8M388.6 262.58h-2.8M434.24 302.0v2.8M388.6 257.24h-2.8M438.10 302.0v2.8M388.6 253.46h-2.8M441.10 302.0v2.8M388.6 250.52h-2.8M443.54 302.0v2.8M388.6 248.12h-2.8M445.61 302.0v2.8M388.6 246.09h-2.8M447.41 302.0v2.8M388.6 244.34h-2.8M448.99 302.0v2.8M388.6 242.79h-2.8M450.40 302.0v4.0M388.6 241.40h-4.0M459.70 302.0v2.8M388.6 232.28h-2.8M465.14 302.0v2.8M388.6 226.94h-2.8M469.00 302.0v2.8M388.6 223.16h-2.8M472.00 302.0v2.8M388.6 220.22h-2.8M474.44 302.0v2.8M388.6 217.82h-2.8M476.51 302.0v2.8M388.6 215.79h-2.8M478.31 302.0v2.8M388.6 214.04h-2.8M479.89 302.0v2.8M388.6 212.49h-2.8M481.30 302.0v4.0M388.6 211.10h-4.0M490.60 302.0v2.8M388.6 201.98h-2.8M496.04 302.0v2.8M388.6 196.64h-2.8M499.90 302.0v2.8M388.6 192.86h-2.8M502.90 302.0v2.8M388.6 189.92h-2.8M505.34 302.0v2.8M388.6 187.52h-2.8M507.41 302.0v2.8M388.6 185.49h-2.8M509.21 302.0v2.8M388.6 183.74h-2.8M510.79 302.0v2.8M388.6 182.19h-2.8M511.20 302.0v4M388.6 181.40h-4" stroke="#000" stroke-width="1.1" fill="none"/>
<text x="389.6" y="316.0" font-size="9.2" text-anchor="middle" stroke="#222" stroke-width="0.25">10<tspan font-size="7.6" dy="-5.9">0</tspan></text>
<text x="419.7" y="316.0" font-size="9.2" text-anchor="middle" stroke="#222" stroke-width="0.25">10<tspan font-size="7.6" dy="-5.9">1</tspan></text>
<text x="450.6" y="316.0" font-size="9.2" text-anchor="middle" stroke="#222" stroke-width="0.25">10<tspan font-size="7.6" dy="-5.9">2</tspan></text>
<text x="481.5" y="316.0" font-size="9.2" text-anchor="middle" stroke="#222" stroke-width="0.25">10<tspan font-size="7.6" dy="-5.9">3</tspan></text>
<text x="510.6" y="316.0" font-size="9.2" text-anchor="middle" stroke="#222" stroke-width="0.25">10<tspan font-size="7.6" dy="-5.9">4</tspan></text>
<text transform="translate(381.4,302.8) rotate(-90)" font-size="9.2" text-anchor="middle" stroke="#222" stroke-width="0.25">10<tspan font-size="7.6" dy="-5.9">0</tspan></text>
<text transform="translate(381.4,272.5) rotate(-90)" font-size="9.2" text-anchor="middle" stroke="#222" stroke-width="0.25">10<tspan font-size="7.6" dy="-5.9">1</tspan></text>
<text transform="translate(381.4,242.2) rotate(-90)" font-size="9.2" text-anchor="middle" stroke="#222" stroke-width="0.25">10<tspan font-size="7.6" dy="-5.9">2</tspan></text>
<text transform="translate(381.4,211.9) rotate(-90)" font-size="9.2" text-anchor="middle" stroke="#222" stroke-width="0.25">10<tspan font-size="7.6" dy="-5.9">3</tspan></text>
<text transform="translate(381.4,181.6) rotate(-90)" font-size="9.2" text-anchor="middle" stroke="#222" stroke-width="0.25">10<tspan font-size="7.6" dy="-5.9">4</tspan></text>
<text x="448.6" y="335.0" font-size="17.9" font-weight="bold" text-anchor="middle" textLength="47.4" lengthAdjust="spacingAndGlyphs" style="fill:#000">SIRP</text>
<text transform="translate(367.0,242.5) rotate(-90)" font-size="18.2" font-weight="bold" text-anchor="middle" textLength="62.6" lengthAdjust="spacingAndGlyphs" style="fill:#000">AC133</text>
<path d="M43 358.5h2M46 358.5h10M57 358.5h16M75 358.5h2M86 358.5h1M90 358.5h1M92 358.5h1M111 358.5h1M43 359.5h15M59 359.5h15M76 359.5h2M83 359.5h2M102 359.5h1M104 359.5h1M114 359.5h1M43 360.5h31M75 360.5h1M85 360.5h1M90 360.5h1M92 360.5h2M101 360.5h1M103 360.5h2M117 360.5h1M43 361.5h12M56 361.5h18M77 361.5h1M81 361.5h1M83 361.5h1M87 361.5h1M89 361.5h3M93 361.5h1M100 361.5h1M107 361.5h1M43 362.5h31M75 362.5h1M79 362.5h1M82 362.5h2M85 362.5h1M87 362.5h1M98 362.5h1M43 363.5h31M75 363.5h1M78 363.5h1M81 363.5h1M83 363.5h1M86 363.5h1M88 363.5h1M96 363.5h1M106 363.5h1M109 363.5h1M44 364.5h19M64 364.5h11M76 364.5h1M79 364.5h1M82 364.5h2M85 364.5h1M88 364.5h1M90 364.5h1M95 364.5h1M108 364.5h1M43 365.5h32M76 365.5h2M81 365.5h1M83 365.5h1M86 365.5h1M89 365.5h1M91 365.5h3M96 365.5h1M98 365.5h1M123 365.5h1M43 366.5h16M60 366.5h16M78 366.5h1M85 366.5h1M89 366.5h1M93 366.5h1M99 366.5h1M43 367.5h32M76 367.5h1M81 367.5h1M89 367.5h1M92 367.5h1M96 367.5h1M105 367.5h1M109 367.5h1M115 367.5h1M43 368.5h30M75 368.5h1M79 368.5h1M83 368.5h1M86 368.5h1M90 368.5h2M93 368.5h3M99 368.5h2M104 368.5h1M43 369.5h32M76 369.5h2M83 369.5h2M90 369.5h1M93 369.5h1M96 369.5h1M98 369.5h1M103 369.5h1M108 369.5h1M112 369.5h1M43 370.5h34M78 370.5h1M80 370.5h1M89 370.5h1M91 370.5h2M94 370.5h1M97 370.5h1M43 371.5h5M49 371.5h16M66 371.5h7M74 371.5h3M79 371.5h2M83 371.5h3M88 371.5h2M91 371.5h1M93 371.5h5M100 371.5h1M114 371.5h1M43 372.5h32M76 372.5h1M80 372.5h2M85 372.5h1M88 372.5h2M94 372.5h2M43 373.5h31M75 373.5h1M83 373.5h1M87 373.5h1M90 373.5h1M97 373.5h1M99 373.5h1M101 373.5h1M115 373.5h1M43 374.5h32M79 374.5h1M81 374.5h2M84 374.5h1M86 374.5h1M88 374.5h1M92 374.5h2M104 374.5h1M120 374.5h1M43 375.5h31M77 375.5h1M82 375.5h1M84 375.5h1M86 375.5h1M90 375.5h1M92 375.5h1M95 375.5h1M97 375.5h3M101 375.5h1M103 375.5h1M43 376.5h14M58 376.5h17M76 376.5h2M80 376.5h1M87 376.5h1M92 376.5h1M105 376.5h1M116 376.5h1M43 377.5h33M82 377.5h1M85 377.5h1M87 377.5h1M92 377.5h2M95 377.5h1M98 377.5h1M43 378.5h4M48 378.5h8M57 378.5h18M80 378.5h1M84 378.5h1M87 378.5h1M89 378.5h1M91 378.5h2M43 379.5h33M77 379.5h1M80 379.5h1M86 379.5h1M90 379.5h1M103 379.5h1M43 380.5h31M75 380.5h1M77 380.5h2M83 380.5h1M86 380.5h1M88 380.5h1M108 380.5h1M43 381.5h19M63 381.5h4M68 381.5h7M77 381.5h2M81 381.5h1M43 382.5h3M47 382.5h2M50 382.5h6M57 382.5h3M61 382.5h8M71 382.5h3M76 382.5h1M87 382.5h1M102 382.5h1M109 382.5h1M44 383.5h3M48 383.5h1M50 383.5h1M53 383.5h4M59 383.5h1M62 383.5h2M68 383.5h2M72 383.5h2M76 383.5h1M88 383.5h1M97 383.5h1M109 383.5h1M43 384.5h3M50 384.5h2M54 384.5h1M57 384.5h4M62 384.5h2M69 384.5h4M79 384.5h1M82 384.5h1M84 384.5h1M45 385.5h1M48 385.5h1M51 385.5h1M55 385.5h2M61 385.5h2M64 385.5h2M72 385.5h1M79 385.5h1M102 385.5h1M44 386.5h3M50 386.5h3M55 386.5h2M58 386.5h2M63 386.5h1M70 386.5h3M74 386.5h1M79 386.5h1M83 386.5h1M90 386.5h1M99 386.5h1M107 386.5h1M44 387.5h1M50 387.5h1M97 387.5h1M122 387.5h1M85 388.5h1M87 388.5h1M101 388.5h1M75 389.5h1M88 389.5h1M98 389.5h1M45 390.5h1M54 390.5h1M56 390.5h1M58 390.5h1M83 390.5h1M98 390.5h1M110 390.5h1M53 391.5h1M55 391.5h1M57 391.5h1M88 391.5h1M122 391.5h1M64 392.5h1M69 392.5h1M79 392.5h1M98 392.5h1M44 393.5h1M102 393.5h1M45 394.5h1M105 394.5h1M113 394.5h1M64 395.5h1M73 395.5h1M75 395.5h1M50 396.5h1M69 396.5h1M45 398.5h1M47 398.5h1M57 398.5h1M67 399.5h1M70 399.5h2M45 400.5h1M51 400.5h1M107 400.5h1M73 401.5h1M124 401.5h2M66 402.5h1M75 402.5h1M101 402.5h1M125 402.5h1M132 402.5h1M72 403.5h1M128 403.5h1M45 404.5h1M56 404.5h2M107 404.5h1M62 405.5h1M70 405.5h1M104 405.5h1M111 405.5h1M114 405.5h1M116 405.5h1M62 406.5h2M100 406.5h1M54 407.5h1M122 407.5h1M125 407.5h1M128 407.5h1M67 408.5h1M72 408.5h1M106 408.5h1M59 409.5h1M71 409.5h1M102 409.5h1M116 409.5h1M47 410.5h1M54 410.5h1M75 410.5h1M107 410.5h1M116 410.5h1M54 411.5h1M66 411.5h1M72 411.5h1M74 411.5h2M78 411.5h1M81 411.5h1M91 411.5h1M98 411.5h1M107 411.5h1M119 411.5h1M43 412.5h1M59 412.5h3M69 412.5h1M104 412.5h2M107 412.5h2M113 412.5h2M117 412.5h1M132 412.5h1M44 413.5h1M55 413.5h1M61 413.5h1M83 413.5h1M91 413.5h1M108 413.5h1M113 413.5h1M128 413.5h1M50 414.5h1M53 414.5h1M59 414.5h1M65 414.5h1M67 414.5h2M71 414.5h1M78 414.5h1M102 414.5h1M106 414.5h1M130 414.5h1M54 415.5h1M59 415.5h2M103 415.5h2M116 415.5h1M123 415.5h1M48 416.5h1M54 416.5h1M60 416.5h1M70 416.5h1M74 416.5h1M85 416.5h1M105 416.5h1M107 416.5h1M113 416.5h1M116 416.5h1M123 416.5h1M44 417.5h1M47 417.5h1M49 417.5h2M58 417.5h2M66 417.5h1M68 417.5h2M73 417.5h1M80 417.5h1M84 417.5h2M93 417.5h2M97 417.5h1M106 417.5h1M115 417.5h1M117 417.5h1M50 418.5h1M55 418.5h2M60 418.5h1M63 418.5h1M67 418.5h1M72 418.5h1M78 418.5h1M83 418.5h1M89 418.5h2M93 418.5h1M106 418.5h1M112 418.5h1M130 418.5h1M52 419.5h1M55 419.5h1M57 419.5h1M59 419.5h1M64 419.5h1M66 419.5h1M68 419.5h1M71 419.5h2M74 419.5h1M76 419.5h1M78 419.5h3M83 419.5h4M88 419.5h1M93 419.5h1M95 419.5h1M97 419.5h1M100 419.5h3M105 419.5h1M113 419.5h1M44 420.5h3M48 420.5h1M50 420.5h1M56 420.5h1M60 420.5h2M63 420.5h2M66 420.5h1M71 420.5h1M73 420.5h1M75 420.5h1M77 420.5h3M83 420.5h1M85 420.5h1M88 420.5h1M90 420.5h2M98 420.5h1M101 420.5h1M113 420.5h2M118 420.5h1M54 421.5h4M59 421.5h7M68 421.5h4M73 421.5h3M80 421.5h1M82 421.5h5M90 421.5h2M93 421.5h1M96 421.5h1M99 421.5h3M112 421.5h1M114 421.5h1M43 422.5h1M45 422.5h1M50 422.5h1M53 422.5h1M57 422.5h1M59 422.5h2M62 422.5h9M73 422.5h1M76 422.5h3M80 422.5h2M85 422.5h3M89 422.5h2M93 422.5h2M99 422.5h1M102 422.5h3M113 422.5h1M116 422.5h1M119 422.5h1M43 423.5h1M45 423.5h1M48 423.5h2M53 423.5h1M55 423.5h2M58 423.5h3M62 423.5h6M70 423.5h2M73 423.5h1M75 423.5h1M77 423.5h2M80 423.5h1M82 423.5h3M87 423.5h1M90 423.5h4M96 423.5h1M100 423.5h2M112 423.5h3M121 423.5h1M43 424.5h1M48 424.5h4M54 424.5h10M66 424.5h4M71 424.5h1M73 424.5h20M94 424.5h5M102 424.5h2M105 424.5h1M107 424.5h1M118 424.5h1M135 424.5h1M43 425.5h2M46 425.5h2M49 425.5h1M51 425.5h1M53 425.5h1M55 425.5h34M93 425.5h1M95 425.5h1M101 425.5h1M103 425.5h1M108 425.5h1M110 425.5h1M112 425.5h1M115 425.5h1M117 425.5h1M120 425.5h1M43 426.5h6M50 426.5h4M55 426.5h37M93 426.5h2M96 426.5h1M98 426.5h1M105 426.5h1M114 426.5h2M121 426.5h1M123 426.5h1M143 426.5h1M43 427.5h44M88 427.5h5M94 427.5h5M105 427.5h1M110 427.5h1M112 427.5h3M120 427.5h1M126 427.5h1M43 428.5h54M100 428.5h1M108 428.5h2M115 428.5h1M120 428.5h1M124 428.5h1M134 428.5h1M43 429.5h53M97 429.5h3M101 429.5h1M105 429.5h2M108 429.5h1M111 429.5h1M113 429.5h1M115 429.5h2M122 429.5h1M43 430.5h54M98 430.5h2M101 430.5h2M104 430.5h1M106 430.5h1M112 430.5h1M137 430.5h1M43 431.5h58M102 431.5h1M107 431.5h1M111 431.5h1M114 431.5h2M121 431.5h2M124 431.5h1M43 432.5h48M92 432.5h6M99 432.5h2M102 432.5h3M107 432.5h2M114 432.5h1M123 432.5h2M43 433.5h55M100 433.5h2M107 433.5h1M110 433.5h2M120 433.5h1M130 433.5h1M43 434.5h60M105 434.5h1M107 434.5h1M109 434.5h1M115 434.5h1M43 435.5h45M89 435.5h8M98 435.5h2M101 435.5h1M104 435.5h2M108 435.5h1M110 435.5h3M115 435.5h1M122 435.5h1M124 435.5h1M43 436.5h54M98 436.5h3M103 436.5h1M110 436.5h1M113 436.5h2M119 436.5h1M123 436.5h2M134 436.5h1M43 437.5h56M100 437.5h3M104 437.5h3M112 437.5h1M117 437.5h2M120 437.5h1M124 437.5h1M43 438.5h45M89 438.5h13M103 438.5h1M116 438.5h1M137 438.5h1M43 439.5h52M96 439.5h7M104 439.5h2M107 439.5h4M112 439.5h1M115 439.5h1M118 439.5h1M43 440.5h49M94 440.5h10M108 440.5h1M115 440.5h1M117 440.5h1M43 441.5h53M97 441.5h2M100 441.5h2M106 441.5h2M116 441.5h1M122 441.5h3M131 441.5h1M133 441.5h1M43 442.5h59M103 442.5h1M105 442.5h1M107 442.5h1M111 442.5h1M113 442.5h1M116 442.5h1M119 442.5h1M43 443.5h46M90 443.5h1M93 443.5h9M104 443.5h3M109 443.5h1M114 443.5h1M117 443.5h1M130 443.5h1M152 443.5h1M43 444.5h8M52 444.5h36M89 444.5h16M108 444.5h2M112 444.5h1M114 444.5h1M117 444.5h2M121 444.5h1M123 444.5h1M125 444.5h1M43 445.5h50M94 445.5h6M101 445.5h1M106 445.5h2M109 445.5h2M115 445.5h1M123 445.5h2M131 445.5h1M43 446.5h13M57 446.5h33M91 446.5h10M102 446.5h1M104 446.5h1M106 446.5h1M112 446.5h2M115 446.5h1M122 446.5h1M43 447.5h49M95 447.5h4M100 447.5h1M102 447.5h3M106 447.5h5M113 447.5h3M117 447.5h1M119 447.5h1M43 448.5h2M46 448.5h46M93 448.5h3M97 448.5h3M103 448.5h2M107 448.5h3M120 448.5h1M125 448.5h1M43 449.5h48M92 449.5h11M104 449.5h1M111 449.5h1M114 449.5h1M117 449.5h1M122 449.5h1M43 450.5h13M57 450.5h42M101 450.5h2M105 450.5h1M108 450.5h2M111 450.5h2M114 450.5h2M117 450.5h1M122 450.5h1M124 450.5h1M43 451.5h45M89 451.5h6M97 451.5h3M101 451.5h2M104 451.5h2M107 451.5h5M119 451.5h1M121 451.5h2M124 451.5h1M126 451.5h1M43 452.5h43M87 452.5h8M96 452.5h3M100 452.5h2M103 452.5h3M107 452.5h1M110 452.5h2M116 452.5h2M119 452.5h1M127 452.5h1M43 453.5h44M88 453.5h2M91 453.5h9M101 453.5h3M106 453.5h1M115 453.5h4M124 453.5h1M151 453.5h1M43 454.5h45M90 454.5h2M93 454.5h10M104 454.5h1M106 454.5h2M111 454.5h3M115 454.5h1M43 455.5h7M51 455.5h1M53 455.5h35M89 455.5h12M102 455.5h1M104 455.5h2M107 455.5h1M109 455.5h1M111 455.5h2M114 455.5h1M117 455.5h1M119 455.5h1M121 455.5h2M132 455.5h1M43 456.5h26M70 456.5h22M93 456.5h6M100 456.5h9M112 456.5h2M118 456.5h1M43 457.5h13M57 457.5h32M90 457.5h8M100 457.5h4M105 457.5h1M107 457.5h2M114 457.5h1M121 457.5h1M124 457.5h1M127 457.5h1M135 457.5h1M43 458.5h45M89 458.5h7M97 458.5h2M100 458.5h1M102 458.5h2M105 458.5h1M109 458.5h3M113 458.5h1M119 458.5h1M122 458.5h2M43 459.5h56M100 459.5h4M106 459.5h3M110 459.5h1M113 459.5h1M116 459.5h1M132 459.5h1M43 460.5h11M55 460.5h46M103 460.5h3M108 460.5h1M111 460.5h1M117 460.5h1M122 460.5h2M43 461.5h11M55 461.5h36M92 461.5h6M99 461.5h2M102 461.5h1M106 461.5h1M108 461.5h3M113 461.5h2M116 461.5h1M120 461.5h1M124 461.5h1M43 462.5h46M90 462.5h16M108 462.5h1M111 462.5h1M117 462.5h1M119 462.5h1M127 462.5h1M129 462.5h1M43 463.5h51M96 463.5h3M101 463.5h2M104 463.5h1M108 463.5h2M113 463.5h2M117 463.5h1M119 463.5h1M43 464.5h29M73 464.5h33M108 464.5h2M111 464.5h1M113 464.5h1M124 464.5h1M43 465.5h21M65 465.5h35M102 465.5h1M105 465.5h1M107 465.5h1M110 465.5h1M114 465.5h2M121 465.5h1M43 466.5h49M93 466.5h1M95 466.5h5M102 466.5h2M105 466.5h1M108 466.5h6M118 466.5h1M128 466.5h1M133 466.5h1M43 467.5h11M55 467.5h2M58 467.5h3M62 467.5h4M67 467.5h4M72 467.5h1M74 467.5h12M87 467.5h5M93 467.5h1M95 467.5h3M99 467.5h1M102 467.5h2M108 467.5h3M112 467.5h1M114 467.5h2M119 467.5h1M43 468.5h44M88 468.5h1M90 468.5h1M92 468.5h1M94 468.5h5M100 468.5h2M104 468.5h1M106 468.5h1M108 468.5h1M110 468.5h3M118 468.5h1M122 468.5h1M130 468.5h1M138 468.5h1M43 469.5h56M102 469.5h3M112 469.5h1M117 469.5h1M120 469.5h1M43 470.5h46M90 470.5h1M92 470.5h7M100 470.5h2M106 470.5h2M112 470.5h1M115 470.5h1M43 471.5h44M88 471.5h1M90 471.5h13M106 471.5h1M109 471.5h1M112 471.5h1M115 471.5h2M118 471.5h1M127 471.5h1M43 472.5h43M90 472.5h1M92 472.5h1M94 472.5h2M98 472.5h3M102 472.5h2M110 472.5h1M115 472.5h1M118 472.5h1M124 472.5h1M126 472.5h3M130 472.5h1M43 473.5h45M89 473.5h8M98 473.5h3M103 473.5h3M107 473.5h2M110 473.5h4M116 473.5h1M125 473.5h1M43 474.5h49M93 474.5h5M99 474.5h2M102 474.5h1M108 474.5h1M111 474.5h1M114 474.5h1M117 474.5h1M121 474.5h1M43 475.5h44M88 475.5h2M91 475.5h7M99 475.5h1M101 475.5h1M113 475.5h1M116 475.5h2M122 475.5h2M43 476.5h42M88 476.5h2M91 476.5h5M99 476.5h1M101 476.5h2M104 476.5h3M122 476.5h1M43 477.5h7M51 477.5h15M67 477.5h5M73 477.5h15M91 477.5h3M95 477.5h2M98 477.5h2M101 477.5h1M109 477.5h1M115 477.5h1M129 477.5h1" stroke="#000" stroke-width="1.0" fill="none"/>
<rect x="42.5" y="357.4" width="124.5" height="121.4" fill="none" stroke="#000" stroke-width="1.35"/>
<path d="M79.3 357.4V478.8M42.5 445.9H167.0" stroke="#000" stroke-width="1.8"/>
<path d="M42.50 478.8v4.0M42.5 478.80h-4.0M51.87 478.8v2.8M42.5 469.66h-2.8M57.35 478.8v2.8M42.5 464.32h-2.8M61.24 478.8v2.8M42.5 460.53h-2.8M64.26 478.8v2.8M42.5 457.59h-2.8M66.72 478.8v2.8M42.5 455.18h-2.8M68.80 478.8v2.8M42.5 453.15h-2.8M70.61 478.8v2.8M42.5 451.39h-2.8M72.20 478.8v2.8M42.5 449.84h-2.8M73.62 478.8v4.0M42.5 448.45h-4.0M82.99 478.8v2.8M42.5 439.31h-2.8M88.48 478.8v2.8M42.5 433.97h-2.8M92.36 478.8v2.8M42.5 430.18h-2.8M95.38 478.8v2.8M42.5 427.24h-2.8M97.84 478.8v2.8M42.5 424.83h-2.8M99.93 478.8v2.8M42.5 422.80h-2.8M101.73 478.8v2.8M42.5 421.04h-2.8M103.33 478.8v2.8M42.5 419.49h-2.8M104.75 478.8v4.0M42.5 418.10h-4.0M114.12 478.8v2.8M42.5 408.96h-2.8M119.60 478.8v2.8M42.5 403.62h-2.8M123.49 478.8v2.8M42.5 399.83h-2.8M126.51 478.8v2.8M42.5 396.89h-2.8M128.97 478.8v2.8M42.5 394.48h-2.8M131.05 478.8v2.8M42.5 392.45h-2.8M132.86 478.8v2.8M42.5 390.69h-2.8M134.45 478.8v2.8M42.5 389.14h-2.8M135.88 478.8v4.0M42.5 387.75h-4.0M145.24 478.8v2.8M42.5 378.61h-2.8M150.73 478.8v2.8M42.5 373.27h-2.8M154.61 478.8v2.8M42.5 369.48h-2.8M157.63 478.8v2.8M42.5 366.54h-2.8M160.09 478.8v2.8M42.5 364.13h-2.8M162.18 478.8v2.8M42.5 362.10h-2.8M163.98 478.8v2.8M42.5 360.34h-2.8M165.58 478.8v2.8M42.5 358.79h-2.8M166.00 478.8v4M42.5 358.00h-4" stroke="#000" stroke-width="1.1" fill="none"/>
<text x="43.5" y="492.8" font-size="9.2" text-anchor="middle" stroke="#222" stroke-width="0.25">10<tspan font-size="7.6" dy="-5.9">0</tspan></text>
<text x="73.8" y="492.8" font-size="9.2" text-anchor="middle" stroke="#222" stroke-width="0.25">10<tspan font-size="7.6" dy="-5.9">1</tspan></text>
<text x="105.0" y="492.8" font-size="9.2" text-anchor="middle" stroke="#222" stroke-width="0.25">10<tspan font-size="7.6" dy="-5.9">2</tspan></text>
<text x="136.1" y="492.8" font-size="9.2" text-anchor="middle" stroke="#222" stroke-width="0.25">10<tspan font-size="7.6" dy="-5.9">3</tspan></text>
<text x="165.4" y="492.8" font-size="9.2" text-anchor="middle" stroke="#222" stroke-width="0.25">10<tspan font-size="7.6" dy="-5.9">4</tspan></text>
<text transform="translate(35.3,479.6) rotate(-90)" font-size="9.2" text-anchor="middle" stroke="#222" stroke-width="0.25">10<tspan font-size="7.6" dy="-5.9">0</tspan></text>
<text transform="translate(35.3,449.2) rotate(-90)" font-size="9.2" text-anchor="middle" stroke="#222" stroke-width="0.25">10<tspan font-size="7.6" dy="-5.9">1</tspan></text>
<text transform="translate(35.3,418.9) rotate(-90)" font-size="9.2" text-anchor="middle" stroke="#222" stroke-width="0.25">10<tspan font-size="7.6" dy="-5.9">2</tspan></text>
<text transform="translate(35.3,388.6) rotate(-90)" font-size="9.2" text-anchor="middle" stroke="#222" stroke-width="0.25">10<tspan font-size="7.6" dy="-5.9">3</tspan></text>
<text transform="translate(35.3,358.2) rotate(-90)" font-size="9.2" text-anchor="middle" stroke="#222" stroke-width="0.25">10<tspan font-size="7.6" dy="-5.9">4</tspan></text>
<text x="100.9" y="510.9" font-size="17.9" font-weight="bold" text-anchor="middle" textLength="47.4" lengthAdjust="spacingAndGlyphs" style="fill:#000">SIRP</text>
<text transform="translate(17.8,419.1) rotate(-90)" font-size="18.2" font-weight="bold" text-anchor="middle" textLength="42.3" lengthAdjust="spacingAndGlyphs" style="fill:#000">CD3</text>
<path d="M249 379.5h1M241 382.5h1M244 383.5h1M232 384.5h1M235 384.5h1M238 384.5h3M249 384.5h1M246 385.5h1M229 386.5h1M232 386.5h2M235 386.5h1M237 386.5h1M248 386.5h2M232 387.5h1M241 387.5h1M244 387.5h1M250 387.5h1M231 388.5h1M234 388.5h1M238 388.5h1M246 388.5h1M229 389.5h1M238 389.5h1M249 389.5h1M229 390.5h1M234 390.5h1M236 390.5h1M247 390.5h1M251 390.5h1M228 391.5h1M243 391.5h2M246 391.5h1M249 391.5h1M251 391.5h1M230 392.5h1M237 392.5h1M242 392.5h1M248 392.5h1M251 392.5h1M228 393.5h1M230 393.5h1M233 393.5h1M236 393.5h1M238 393.5h1M241 393.5h1M250 393.5h1M236 394.5h1M238 394.5h1M227 395.5h2M233 395.5h1M246 395.5h1M250 395.5h2M227 396.5h1M235 396.5h1M238 396.5h2M250 396.5h1M252 396.5h1M262 396.5h1M226 397.5h2M230 397.5h2M233 397.5h1M236 397.5h1M240 397.5h1M245 397.5h1M251 397.5h1M266 397.5h1M233 398.5h2M236 398.5h1M240 398.5h1M243 398.5h3M252 398.5h1M259 398.5h2M262 398.5h1M226 399.5h1M236 399.5h2M251 399.5h1M256 399.5h2M259 399.5h1M261 399.5h3M218 400.5h1M234 400.5h2M238 400.5h1M240 400.5h1M243 400.5h1M245 400.5h1M251 400.5h2M255 400.5h1M259 400.5h1M271 400.5h1M222 401.5h1M234 401.5h1M236 401.5h3M242 401.5h1M246 401.5h1M248 401.5h1M251 401.5h2M254 401.5h1M258 401.5h1M260 401.5h1M224 402.5h1M226 402.5h1M228 402.5h1M235 402.5h1M237 402.5h6M249 402.5h1M252 402.5h2M256 402.5h2M272 402.5h1M228 403.5h1M230 403.5h1M233 403.5h3M237 403.5h4M242 403.5h2M246 403.5h1M250 403.5h1M255 403.5h1M262 403.5h1M267 403.5h1M222 404.5h1M233 404.5h1M235 404.5h1M237 404.5h1M241 404.5h2M244 404.5h2M255 404.5h2M266 404.5h1M269 404.5h1M272 404.5h2M227 405.5h1M229 405.5h1M231 405.5h1M233 405.5h2M236 405.5h1M238 405.5h2M241 405.5h2M244 405.5h2M248 405.5h1M253 405.5h1M255 405.5h1M258 405.5h1M272 405.5h1M231 406.5h1M233 406.5h1M235 406.5h1M238 406.5h5M244 406.5h1M246 406.5h4M251 406.5h1M256 406.5h1M264 406.5h1M270 406.5h1M273 406.5h1M278 406.5h1M235 407.5h9M249 407.5h2M258 407.5h1M269 407.5h2M222 408.5h1M228 408.5h1M231 408.5h1M234 408.5h3M238 408.5h2M241 408.5h2M249 408.5h1M265 408.5h1M270 408.5h1M272 408.5h1M274 408.5h2M224 409.5h2M233 409.5h2M237 409.5h4M244 409.5h1M247 409.5h4M253 409.5h1M256 409.5h2M259 409.5h1M261 409.5h1M277 409.5h1M281 409.5h1M222 410.5h1M232 410.5h2M236 410.5h3M240 410.5h2M243 410.5h4M253 410.5h1M271 410.5h1M279 410.5h1M281 410.5h1M298 410.5h1M228 411.5h1M230 411.5h1M232 411.5h1M234 411.5h1M236 411.5h3M240 411.5h3M245 411.5h4M250 411.5h1M255 411.5h1M279 411.5h1M225 412.5h1M228 412.5h2M231 412.5h4M236 412.5h1M240 412.5h3M244 412.5h1M246 412.5h3M250 412.5h1M254 412.5h1M273 412.5h1M276 412.5h2M227 413.5h1M229 413.5h1M231 413.5h7M239 413.5h4M244 413.5h4M249 413.5h1M264 413.5h1M270 413.5h1M283 413.5h1M228 414.5h6M236 414.5h9M246 414.5h1M248 414.5h4M267 414.5h2M274 414.5h1M276 414.5h1M300 414.5h1M227 415.5h2M230 415.5h9M240 415.5h1M242 415.5h2M245 415.5h3M249 415.5h2M253 415.5h1M255 415.5h2M260 415.5h1M266 415.5h1M273 415.5h1M234 416.5h1M238 416.5h7M248 416.5h2M252 416.5h1M255 416.5h1M260 416.5h1M264 416.5h1M266 416.5h1M278 416.5h2M281 416.5h1M284 416.5h1M221 417.5h1M227 417.5h2M235 417.5h1M237 417.5h2M241 417.5h1M243 417.5h3M247 417.5h1M251 417.5h1M260 417.5h2M272 417.5h2M279 417.5h1M283 417.5h1M285 417.5h1M287 417.5h2M294 417.5h1M222 418.5h1M229 418.5h4M234 418.5h1M236 418.5h6M243 418.5h2M247 418.5h1M250 418.5h2M254 418.5h1M262 418.5h1M276 418.5h1M287 418.5h1M289 418.5h1M228 419.5h1M231 419.5h1M233 419.5h2M237 419.5h1M239 419.5h4M248 419.5h2M255 419.5h1M260 419.5h1M263 419.5h1M275 419.5h1M282 419.5h1M287 419.5h1M290 419.5h1M301 419.5h1M221 420.5h1M228 420.5h1M233 420.5h2M236 420.5h1M238 420.5h1M240 420.5h1M243 420.5h7M265 420.5h1M269 420.5h1M272 420.5h1M274 420.5h1M281 420.5h1M306 420.5h1M222 421.5h1M225 421.5h1M228 421.5h1M234 421.5h3M238 421.5h5M244 421.5h2M251 421.5h1M254 421.5h1M284 421.5h2M288 421.5h3M227 422.5h1M230 422.5h2M233 422.5h2M236 422.5h1M238 422.5h1M240 422.5h3M244 422.5h1M246 422.5h3M250 422.5h2M266 422.5h1M285 422.5h2M289 422.5h1M291 422.5h1M227 423.5h1M231 423.5h1M233 423.5h1M235 423.5h1M238 423.5h1M240 423.5h2M243 423.5h3M248 423.5h3M255 423.5h1M259 423.5h1M265 423.5h1M270 423.5h1M276 423.5h1M282 423.5h1M285 423.5h1M289 423.5h1M293 423.5h1M305 423.5h1M229 424.5h1M231 424.5h1M233 424.5h1M238 424.5h1M242 424.5h1M246 424.5h1M250 424.5h1M256 424.5h2M259 424.5h2M263 424.5h1M265 424.5h2M280 424.5h1M295 424.5h3M312 424.5h1M227 425.5h1M234 425.5h2M237 425.5h2M245 425.5h2M253 425.5h1M267 425.5h1M282 425.5h1M287 425.5h1M289 425.5h1M292 425.5h1M294 425.5h1M296 425.5h1M299 425.5h2M304 425.5h1M231 426.5h1M233 426.5h2M240 426.5h1M244 426.5h1M247 426.5h2M253 426.5h1M259 426.5h1M263 426.5h2M269 426.5h2M279 426.5h2M285 426.5h1M288 426.5h2M294 426.5h1M296 426.5h1M299 426.5h1M302 426.5h2M224 427.5h1M238 427.5h1M241 427.5h1M243 427.5h1M248 427.5h1M252 427.5h2M256 427.5h1M258 427.5h2M263 427.5h1M265 427.5h1M267 427.5h1M269 427.5h2M276 427.5h3M282 427.5h1M285 427.5h1M287 427.5h1M292 427.5h1M298 427.5h1M230 428.5h2M236 428.5h1M238 428.5h1M240 428.5h1M244 428.5h1M250 428.5h1M253 428.5h1M255 428.5h3M266 428.5h3M281 428.5h1M285 428.5h1M291 428.5h1M300 428.5h1M228 429.5h1M233 429.5h1M239 429.5h4M248 429.5h1M255 429.5h2M265 429.5h1M269 429.5h1M276 429.5h3M281 429.5h2M286 429.5h1M288 429.5h1M294 429.5h1M301 429.5h1M234 430.5h1M240 430.5h1M247 430.5h2M261 430.5h2M268 430.5h2M275 430.5h2M282 430.5h1M289 430.5h6M298 430.5h3M302 430.5h3M306 430.5h1M232 431.5h1M249 431.5h1M251 431.5h2M257 431.5h2M262 431.5h2M268 431.5h2M277 431.5h1M287 431.5h2M291 431.5h4M297 431.5h1M299 431.5h2M228 432.5h1M235 432.5h1M245 432.5h2M262 432.5h1M265 432.5h1M276 432.5h3M280 432.5h1M285 432.5h1M288 432.5h1M291 432.5h2M294 432.5h3M298 432.5h1M307 432.5h1M229 433.5h1M240 433.5h1M244 433.5h1M247 433.5h1M251 433.5h2M278 433.5h1M281 433.5h4M289 433.5h2M294 433.5h2M297 433.5h2M304 433.5h1M228 434.5h1M238 434.5h1M254 434.5h1M256 434.5h1M260 434.5h1M267 434.5h1M272 434.5h1M282 434.5h1M284 434.5h5M291 434.5h1M293 434.5h2M296 434.5h4M301 434.5h1M308 434.5h2M226 435.5h1M253 435.5h1M269 435.5h1M271 435.5h1M276 435.5h1M282 435.5h1M287 435.5h1M290 435.5h7M299 435.5h2M306 435.5h1M228 436.5h1M259 436.5h2M262 436.5h1M266 436.5h1M287 436.5h3M291 436.5h3M295 436.5h2M298 436.5h1M300 436.5h1M305 436.5h1M232 437.5h1M237 437.5h1M244 437.5h1M254 437.5h1M266 437.5h1M270 437.5h3M276 437.5h1M279 437.5h1M286 437.5h1M288 437.5h1M291 437.5h1M293 437.5h3M301 437.5h2M238 438.5h1M242 438.5h1M244 438.5h1M254 438.5h1M269 438.5h1M276 438.5h2M279 438.5h1M282 438.5h1M284 438.5h2M291 438.5h4M296 438.5h2M302 438.5h1M305 438.5h1M236 439.5h1M242 439.5h1M249 439.5h1M251 439.5h1M254 439.5h1M260 439.5h1M263 439.5h2M269 439.5h3M273 439.5h1M276 439.5h2M279 439.5h1M281 439.5h3M289 439.5h11M301 439.5h1M223 440.5h1M233 440.5h1M236 440.5h1M239 440.5h1M242 440.5h1M244 440.5h1M257 440.5h1M261 440.5h1M265 440.5h2M268 440.5h1M271 440.5h1M274 440.5h2M283 440.5h3M288 440.5h2M291 440.5h9M301 440.5h1M229 441.5h1M235 441.5h1M239 441.5h1M253 441.5h1M255 441.5h1M260 441.5h1M270 441.5h1M273 441.5h1M277 441.5h3M284 441.5h1M288 441.5h1M291 441.5h4M296 441.5h2M304 441.5h1M242 442.5h1M249 442.5h1M254 442.5h1M256 442.5h1M259 442.5h1M261 442.5h1M268 442.5h1M272 442.5h3M279 442.5h1M283 442.5h1M285 442.5h1M287 442.5h2M293 442.5h2M296 442.5h1M298 442.5h1M300 442.5h2M226 443.5h1M231 443.5h1M236 443.5h2M244 443.5h1M247 443.5h1M253 443.5h1M255 443.5h1M264 443.5h1M267 443.5h1M271 443.5h2M276 443.5h2M281 443.5h1M283 443.5h2M287 443.5h4M292 443.5h1M294 443.5h1M296 443.5h1M298 443.5h1M304 443.5h1M313 443.5h1M270 444.5h1M276 444.5h1M278 444.5h1M280 444.5h1M282 444.5h1M284 444.5h1M287 444.5h3M291 444.5h3M296 444.5h2M300 444.5h1M307 444.5h1M275 445.5h2M278 445.5h3M286 445.5h1M289 445.5h1M291 445.5h1M293 445.5h1M295 445.5h4M300 445.5h1M306 445.5h1M222 446.5h2M225 446.5h1M227 446.5h1M235 446.5h1M240 446.5h1M249 446.5h2M256 446.5h1M260 446.5h1M264 446.5h1M267 446.5h3M271 446.5h2M274 446.5h1M276 446.5h1M286 446.5h4M293 446.5h1M297 446.5h1M216 447.5h55M272 447.5h1M275 447.5h1M280 447.5h2M283 447.5h1M298 447.5h1M303 447.5h1M216 448.5h54M272 448.5h1M274 448.5h1M282 448.5h1M285 448.5h2M290 448.5h1M292 448.5h2M296 448.5h1M299 448.5h1M301 448.5h1M307 448.5h1M216 449.5h55M272 449.5h3M276 449.5h5M282 449.5h1M284 449.5h1M291 449.5h2M297 449.5h1M299 449.5h1M301 449.5h1M303 449.5h1M216 450.5h56M273 450.5h1M275 450.5h2M280 450.5h2M284 450.5h1M287 450.5h2M292 450.5h3M297 450.5h1M216 451.5h55M272 451.5h1M275 451.5h2M281 451.5h2M284 451.5h1M286 451.5h2M290 451.5h2M216 452.5h55M274 452.5h1M276 452.5h3M280 452.5h1M285 452.5h1M216 453.5h58M278 453.5h1M280 453.5h1M284 453.5h1M286 453.5h1M289 453.5h2M295 453.5h1M297 453.5h1M300 453.5h1M216 454.5h55M273 454.5h3M280 454.5h1M283 454.5h1M285 454.5h2M290 454.5h4M216 455.5h59M276 455.5h3M280 455.5h2M287 455.5h2M291 455.5h3M296 455.5h1M216 456.5h58M276 456.5h1M278 456.5h2M283 456.5h2M287 456.5h1M289 456.5h1M296 456.5h2M300 456.5h2M216 457.5h58M276 457.5h1M278 457.5h1M280 457.5h1M282 457.5h1M284 457.5h2M287 457.5h1M290 457.5h1M296 457.5h1M308 457.5h1M216 458.5h61M278 458.5h1M280 458.5h1M282 458.5h2M287 458.5h2M292 458.5h2M297 458.5h1M216 459.5h59M276 459.5h1M280 459.5h2M286 459.5h1M289 459.5h1M295 459.5h1M308 459.5h1M216 460.5h58M278 460.5h1M280 460.5h1M282 460.5h4M288 460.5h1M291 460.5h2M297 460.5h1M216 461.5h56M273 461.5h1M276 461.5h1M278 461.5h2M281 461.5h8M296 461.5h1M298 461.5h2M216 462.5h59M277 462.5h3M281 462.5h2M286 462.5h2M289 462.5h1M291 462.5h2M295 462.5h1M297 462.5h1M216 463.5h59M277 463.5h1M279 463.5h6M289 463.5h1M291 463.5h1M303 463.5h1M216 464.5h56M273 464.5h6M280 464.5h1M282 464.5h1M286 464.5h1M289 464.5h1M293 464.5h1M216 465.5h56M273 465.5h1M275 465.5h3M280 465.5h10M292 465.5h1M296 465.5h1M216 466.5h57M275 466.5h6M283 466.5h2M290 466.5h1M296 466.5h1M298 466.5h1M216 467.5h57M274 467.5h5M280 467.5h1M284 467.5h1M286 467.5h2M289 467.5h1M294 467.5h2M301 467.5h1M310 467.5h1M313 467.5h1M216 468.5h60M279 468.5h1M282 468.5h1M286 468.5h1M291 468.5h1M216 469.5h56M273 469.5h3M282 469.5h1M285 469.5h1M287 469.5h1M216 470.5h59M278 470.5h2M281 470.5h1M285 470.5h3M290 470.5h1M292 470.5h2M302 470.5h1M216 471.5h57M275 471.5h5M284 471.5h1M290 471.5h2M216 472.5h56M273 472.5h3M277 472.5h2M280 472.5h1M285 472.5h1M288 472.5h1M290 472.5h1M293 472.5h1M216 473.5h58M275 473.5h1M278 473.5h5M286 473.5h1M294 473.5h1M301 473.5h1M216 474.5h55M272 474.5h2M276 474.5h2M280 474.5h1M283 474.5h1M285 474.5h3M292 474.5h2M216 475.5h57M283 475.5h2M287 475.5h2M290 475.5h1M293 475.5h1M216 476.5h56M274 476.5h1M280 476.5h1M282 476.5h2M286 476.5h1M299 476.5h1M301 476.5h1" stroke="#000" stroke-width="1.0" fill="none"/>
<rect x="215.2" y="356.8" width="124.2" height="120.8" fill="none" stroke="#000" stroke-width="1.35"/>
<path d="M252.7 356.8V477.6M215.2 444.9H339.4" stroke="#000" stroke-width="1.8"/>
<path d="M215.20 477.6v4.0M215.2 477.60h-4.0M224.55 477.6v2.8M215.2 468.51h-2.8M230.01 477.6v2.8M215.2 463.19h-2.8M233.89 477.6v2.8M215.2 459.42h-2.8M236.90 477.6v2.8M215.2 456.49h-2.8M239.36 477.6v2.8M215.2 454.10h-2.8M241.44 477.6v2.8M215.2 452.08h-2.8M243.24 477.6v2.8M215.2 450.33h-2.8M244.83 477.6v2.8M215.2 448.78h-2.8M246.25 477.6v4.0M215.2 447.40h-4.0M255.60 477.6v2.8M215.2 438.31h-2.8M261.06 477.6v2.8M215.2 432.99h-2.8M264.94 477.6v2.8M215.2 429.22h-2.8M267.95 477.6v2.8M215.2 426.29h-2.8M270.41 477.6v2.8M215.2 423.90h-2.8M272.49 477.6v2.8M215.2 421.88h-2.8M274.29 477.6v2.8M215.2 420.13h-2.8M275.88 477.6v2.8M215.2 418.58h-2.8M277.30 477.6v4.0M215.2 417.20h-4.0M286.65 477.6v2.8M215.2 408.11h-2.8M292.11 477.6v2.8M215.2 402.79h-2.8M295.99 477.6v2.8M215.2 399.02h-2.8M299.00 477.6v2.8M215.2 396.09h-2.8M301.46 477.6v2.8M215.2 393.70h-2.8M303.54 477.6v2.8M215.2 391.68h-2.8M305.34 477.6v2.8M215.2 389.93h-2.8M306.93 477.6v2.8M215.2 388.38h-2.8M308.35 477.6v4.0M215.2 387.00h-4.0M317.70 477.6v2.8M215.2 377.91h-2.8M323.16 477.6v2.8M215.2 372.59h-2.8M327.04 477.6v2.8M215.2 368.82h-2.8M330.05 477.6v2.8M215.2 365.89h-2.8M332.51 477.6v2.8M215.2 363.50h-2.8M334.59 477.6v2.8M215.2 361.48h-2.8M336.39 477.6v2.8M215.2 359.73h-2.8M337.98 477.6v2.8M215.2 358.18h-2.8M338.40 477.6v4M215.2 357.40h-4" stroke="#000" stroke-width="1.1" fill="none"/>
<text x="216.2" y="491.6" font-size="9.2" text-anchor="middle" stroke="#222" stroke-width="0.25">10<tspan font-size="7.6" dy="-5.9">0</tspan></text>
<text x="246.4" y="491.6" font-size="9.2" text-anchor="middle" stroke="#222" stroke-width="0.25">10<tspan font-size="7.6" dy="-5.9">1</tspan></text>
<text x="277.5" y="491.6" font-size="9.2" text-anchor="middle" stroke="#222" stroke-width="0.25">10<tspan font-size="7.6" dy="-5.9">2</tspan></text>
<text x="308.5" y="491.6" font-size="9.2" text-anchor="middle" stroke="#222" stroke-width="0.25">10<tspan font-size="7.6" dy="-5.9">3</tspan></text>
<text x="337.8" y="491.6" font-size="9.2" text-anchor="middle" stroke="#222" stroke-width="0.25">10<tspan font-size="7.6" dy="-5.9">4</tspan></text>
<text transform="translate(208.0,478.4) rotate(-90)" font-size="9.2" text-anchor="middle" stroke="#222" stroke-width="0.25">10<tspan font-size="7.6" dy="-5.9">0</tspan></text>
<text transform="translate(208.0,448.2) rotate(-90)" font-size="9.2" text-anchor="middle" stroke="#222" stroke-width="0.25">10<tspan font-size="7.6" dy="-5.9">1</tspan></text>
<text transform="translate(208.0,418.0) rotate(-90)" font-size="9.2" text-anchor="middle" stroke="#222" stroke-width="0.25">10<tspan font-size="7.6" dy="-5.9">2</tspan></text>
<text transform="translate(208.0,387.8) rotate(-90)" font-size="9.2" text-anchor="middle" stroke="#222" stroke-width="0.25">10<tspan font-size="7.6" dy="-5.9">3</tspan></text>
<text transform="translate(208.0,357.6) rotate(-90)" font-size="9.2" text-anchor="middle" stroke="#222" stroke-width="0.25">10<tspan font-size="7.6" dy="-5.9">4</tspan></text>
<text x="276.6" y="510.9" font-size="17.9" font-weight="bold" text-anchor="middle" textLength="47.4" lengthAdjust="spacingAndGlyphs" style="fill:#000">SIRP</text>
<text transform="translate(192.0,422.4) rotate(-90)" font-size="18.2" font-weight="bold" text-anchor="middle" textLength="52.9" lengthAdjust="spacingAndGlyphs" style="fill:#000">CD56</text>
<path d="M404 369.5h2M393 376.5h2M410 377.5h2M442 385.5h1M449 386.5h1M456 386.5h1M402 387.5h1M404 387.5h1M408 387.5h1M411 387.5h1M413 387.5h1M439 387.5h1M454 387.5h1M390 388.5h1M393 388.5h1M395 388.5h1M401 388.5h1M403 388.5h1M406 388.5h1M408 388.5h1M410 388.5h1M434 388.5h1M443 388.5h1M389 389.5h1M392 389.5h2M397 389.5h8M407 389.5h1M409 389.5h2M412 389.5h2M415 389.5h1M427 389.5h1M438 389.5h1M456 389.5h1M389 390.5h16M406 390.5h7M414 390.5h1M416 390.5h1M435 390.5h1M445 390.5h1M389 391.5h18M408 391.5h6M450 391.5h1M452 391.5h2M389 392.5h24M414 392.5h2M418 392.5h1M444 392.5h1M454 392.5h1M389 393.5h8M398 393.5h16M428 393.5h1M433 393.5h1M440 393.5h1M462 393.5h1M389 394.5h17M407 394.5h9M431 394.5h1M460 394.5h1M389 395.5h3M393 395.5h6M400 395.5h17M431 395.5h2M435 395.5h1M465 395.5h1M389 396.5h12M402 396.5h14M417 396.5h2M432 396.5h1M444 396.5h1M446 396.5h1M449 396.5h1M389 397.5h3M393 397.5h23M417 397.5h3M426 397.5h1M428 397.5h1M434 397.5h2M441 397.5h1M462 397.5h1M464 397.5h1M389 398.5h1M391 398.5h8M400 398.5h6M407 398.5h2M410 398.5h11M424 398.5h2M431 398.5h1M444 398.5h1M469 398.5h1M389 399.5h7M397 399.5h1M401 399.5h18M420 399.5h2M424 399.5h1M427 399.5h1M432 399.5h1M439 399.5h1M444 399.5h1M469 399.5h1M389 400.5h11M401 400.5h22M432 400.5h1M437 400.5h1M443 400.5h1M468 400.5h1M389 401.5h2M392 401.5h16M409 401.5h15M429 401.5h1M433 401.5h2M444 401.5h1M452 401.5h1M460 401.5h1M389 402.5h2M392 402.5h14M407 402.5h12M420 402.5h1M422 402.5h3M430 402.5h1M432 402.5h1M434 402.5h1M443 402.5h1M455 402.5h1M389 403.5h17M407 403.5h10M418 403.5h3M422 403.5h1M431 403.5h1M436 403.5h1M465 403.5h1M389 404.5h3M394 404.5h11M406 404.5h10M417 404.5h8M433 404.5h3M442 404.5h2M447 404.5h1M389 405.5h28M418 405.5h7M433 405.5h1M438 405.5h1M447 405.5h1M389 406.5h18M408 406.5h8M417 406.5h3M421 406.5h4M428 406.5h1M436 406.5h1M452 406.5h1M389 407.5h6M396 407.5h7M404 407.5h21M426 407.5h1M431 407.5h1M437 407.5h1M439 407.5h1M445 407.5h1M390 408.5h4M395 408.5h2M398 408.5h2M401 408.5h9M411 408.5h7M419 408.5h6M429 408.5h1M432 408.5h1M442 408.5h1M452 408.5h2M389 409.5h2M394 409.5h3M399 409.5h5M406 409.5h5M412 409.5h13M434 409.5h1M443 409.5h2M389 410.5h1M395 410.5h2M401 410.5h1M412 410.5h5M418 410.5h8M427 410.5h1M434 410.5h1M437 410.5h1M454 410.5h1M392 411.5h1M396 411.5h2M404 411.5h1M412 411.5h11M424 411.5h2M437 411.5h1M405 412.5h1M407 412.5h1M409 412.5h17M428 412.5h1M459 412.5h1M389 413.5h1M401 413.5h1M410 413.5h17M440 413.5h1M458 413.5h1M403 414.5h1M409 414.5h17M436 414.5h1M446 414.5h1M460 414.5h1M409 415.5h3M413 415.5h1M415 415.5h11M435 415.5h2M447 415.5h1M452 415.5h1M411 416.5h1M413 416.5h2M416 416.5h1M418 416.5h2M421 416.5h6M442 416.5h3M395 417.5h1M408 417.5h1M410 417.5h1M415 417.5h1M418 417.5h2M423 417.5h2M438 417.5h1M466 417.5h1M390 418.5h1M397 418.5h1M400 418.5h1M402 418.5h2M411 418.5h3M416 418.5h1M418 418.5h1M420 418.5h1M422 418.5h1M424 418.5h1M446 418.5h1M459 418.5h1M391 419.5h1M403 419.5h1M408 419.5h1M411 419.5h3M415 419.5h1M418 419.5h1M421 419.5h4M389 420.5h1M399 420.5h2M404 420.5h1M412 420.5h4M418 420.5h3M423 420.5h3M435 420.5h1M439 420.5h1M453 420.5h1M394 421.5h1M402 421.5h1M413 421.5h1M418 421.5h4M423 421.5h1M426 421.5h1M442 421.5h1M447 421.5h1M454 421.5h1M456 421.5h1M411 422.5h1M413 422.5h3M417 422.5h3M422 422.5h4M460 422.5h1M467 422.5h1M410 423.5h1M412 423.5h3M417 423.5h1M422 423.5h1M424 423.5h1M437 423.5h1M471 423.5h1M412 424.5h2M415 424.5h2M419 424.5h2M422 424.5h4M428 424.5h1M431 424.5h2M449 424.5h1M452 424.5h1M459 424.5h1M412 425.5h3M416 425.5h3M420 425.5h5M432 425.5h1M457 425.5h1M468 425.5h1M396 426.5h1M406 426.5h1M411 426.5h1M415 426.5h1M417 426.5h1M419 426.5h1M421 426.5h3M425 426.5h1M427 426.5h1M458 426.5h1M503 426.5h1M395 427.5h1M408 427.5h1M411 427.5h1M413 427.5h1M415 427.5h1M418 427.5h1M422 427.5h1M424 427.5h2M436 427.5h1M443 427.5h1M404 428.5h1M408 428.5h1M411 428.5h4M416 428.5h1M418 428.5h2M421 428.5h2M424 428.5h2M444 428.5h1M456 428.5h1M391 429.5h1M403 429.5h2M415 429.5h4M421 429.5h1M423 429.5h2M432 429.5h1M436 429.5h1M441 429.5h1M444 429.5h1M448 429.5h1M469 429.5h1M389 430.5h1M404 430.5h1M406 430.5h1M411 430.5h2M415 430.5h3M423 430.5h3M436 430.5h2M442 430.5h1M451 430.5h1M456 430.5h1M463 430.5h1M469 430.5h1M395 431.5h1M398 431.5h1M411 431.5h3M416 431.5h5M422 431.5h3M426 431.5h1M436 431.5h1M453 431.5h1M456 431.5h1M464 431.5h1M467 431.5h1M470 431.5h1M389 432.5h2M402 432.5h1M412 432.5h6M420 432.5h1M425 432.5h1M429 432.5h1M465 432.5h1M475 432.5h1M412 433.5h3M418 433.5h4M434 433.5h1M439 433.5h1M441 433.5h1M443 433.5h1M446 433.5h2M466 433.5h1M391 434.5h1M394 434.5h1M396 434.5h1M402 434.5h1M406 434.5h1M412 434.5h1M414 434.5h1M416 434.5h1M418 434.5h2M425 434.5h1M435 434.5h2M444 434.5h1M453 434.5h1M456 434.5h1M466 434.5h1M469 434.5h1M473 434.5h1M393 435.5h1M407 435.5h1M410 435.5h8M420 435.5h1M423 435.5h3M432 435.5h1M439 435.5h1M441 435.5h1M455 435.5h2M479 435.5h1M391 436.5h1M400 436.5h1M412 436.5h1M415 436.5h2M418 436.5h4M423 436.5h2M426 436.5h1M440 436.5h3M444 436.5h1M452 436.5h1M455 436.5h1M458 436.5h1M463 436.5h1M399 437.5h1M401 437.5h1M413 437.5h5M419 437.5h2M422 437.5h1M425 437.5h3M436 437.5h1M438 437.5h1M446 437.5h2M453 437.5h3M460 437.5h1M391 438.5h1M398 438.5h1M400 438.5h2M405 438.5h2M414 438.5h5M420 438.5h5M426 438.5h2M434 438.5h1M436 438.5h1M438 438.5h1M444 438.5h1M449 438.5h1M456 438.5h1M459 438.5h1M461 438.5h1M466 438.5h1M470 438.5h1M472 438.5h1M476 438.5h1M393 439.5h1M410 439.5h1M413 439.5h4M418 439.5h1M421 439.5h8M431 439.5h1M434 439.5h1M437 439.5h2M441 439.5h1M449 439.5h1M451 439.5h1M460 439.5h1M462 439.5h3M480 439.5h1M393 440.5h1M402 440.5h1M410 440.5h1M413 440.5h15M431 440.5h1M433 440.5h8M442 440.5h1M444 440.5h7M452 440.5h2M456 440.5h1M458 440.5h1M465 440.5h1M467 440.5h1M471 440.5h2M389 441.5h1M391 441.5h1M397 441.5h2M401 441.5h2M409 441.5h1M412 441.5h16M430 441.5h2M434 441.5h3M438 441.5h4M443 441.5h1M447 441.5h1M451 441.5h2M459 441.5h1M464 441.5h1M466 441.5h2M481 441.5h1M391 442.5h1M398 442.5h1M400 442.5h1M402 442.5h2M405 442.5h5M412 442.5h2M416 442.5h11M429 442.5h1M431 442.5h2M434 442.5h1M438 442.5h2M442 442.5h7M450 442.5h1M453 442.5h2M456 442.5h2M460 442.5h1M462 442.5h1M465 442.5h1M469 442.5h2M489 442.5h1M399 443.5h1M408 443.5h2M413 443.5h2M416 443.5h12M431 443.5h1M435 443.5h4M440 443.5h2M443 443.5h3M452 443.5h1M454 443.5h1M457 443.5h1M459 443.5h1M461 443.5h3M466 443.5h2M412 444.5h2M417 444.5h2M421 444.5h1M424 444.5h4M430 444.5h1M433 444.5h2M438 444.5h2M441 444.5h1M444 444.5h2M447 444.5h1M450 444.5h2M453 444.5h2M457 444.5h1M462 444.5h1M467 444.5h2M472 444.5h1M478 444.5h1M409 445.5h1M421 445.5h1M424 445.5h2M428 445.5h1M431 445.5h1M444 445.5h1M449 445.5h1M451 445.5h1M454 445.5h7M471 445.5h1M475 445.5h1M480 445.5h1M390 446.5h1M392 446.5h1M395 446.5h1M397 446.5h1M400 446.5h3M407 446.5h2M410 446.5h5M417 446.5h1M422 446.5h2M425 446.5h1M427 446.5h1M429 446.5h2M432 446.5h1M436 446.5h4M443 446.5h1M447 446.5h2M451 446.5h1M454 446.5h1M457 446.5h2M460 446.5h1M464 446.5h5M389 447.5h54M446 447.5h2M449 447.5h2M453 447.5h2M456 447.5h1M460 447.5h1M484 447.5h1M389 448.5h55M445 448.5h3M450 448.5h1M452 448.5h1M456 448.5h1M459 448.5h4M468 448.5h2M471 448.5h1M389 449.5h52M442 449.5h3M448 449.5h2M453 449.5h2M457 449.5h2M460 449.5h1M462 449.5h1M468 449.5h1M476 449.5h1M389 450.5h54M445 450.5h1M447 450.5h3M452 450.5h1M455 450.5h4M464 450.5h2M389 451.5h54M444 451.5h1M448 451.5h2M451 451.5h1M453 451.5h1M455 451.5h5M463 451.5h1M466 451.5h1M468 451.5h1M389 452.5h58M448 452.5h1M454 452.5h1M456 452.5h3M461 452.5h1M463 452.5h1M468 452.5h1M472 452.5h1M389 453.5h53M444 453.5h3M448 453.5h1M451 453.5h3M455 453.5h1M457 453.5h4M462 453.5h1M465 453.5h1M469 453.5h2M473 453.5h1M389 454.5h52M442 454.5h1M444 454.5h2M448 454.5h2M451 454.5h3M457 454.5h1M459 454.5h1M461 454.5h5M475 454.5h1M481 454.5h1M485 454.5h1M389 455.5h55M445 455.5h1M448 455.5h2M451 455.5h3M456 455.5h3M460 455.5h1M462 455.5h2M467 455.5h1M472 455.5h2M476 455.5h1M482 455.5h1M389 456.5h55M445 456.5h1M447 456.5h4M453 456.5h3M457 456.5h3M463 456.5h1M468 456.5h2M479 456.5h1M389 457.5h58M448 457.5h6M455 457.5h2M459 457.5h4M466 457.5h1M389 458.5h57M447 458.5h1M449 458.5h4M454 458.5h6M461 458.5h3M466 458.5h2M472 458.5h1M389 459.5h54M444 459.5h1M446 459.5h1M448 459.5h2M451 459.5h1M453 459.5h1M455 459.5h2M458 459.5h1M460 459.5h5M466 459.5h2M470 459.5h1M474 459.5h1M389 460.5h58M448 460.5h3M453 460.5h1M455 460.5h2M458 460.5h2M463 460.5h2M466 460.5h1M389 461.5h61M452 461.5h1M454 461.5h2M457 461.5h1M459 461.5h1M465 461.5h3M475 461.5h1M389 462.5h60M450 462.5h1M452 462.5h6M459 462.5h1M461 462.5h1M463 462.5h1M389 463.5h56M447 463.5h5M453 463.5h3M458 463.5h2M465 463.5h1M467 463.5h1M469 463.5h1M473 463.5h1M477 463.5h1M389 464.5h56M447 464.5h1M449 464.5h6M457 464.5h2M461 464.5h2M464 464.5h1M466 464.5h2M473 464.5h1M389 465.5h55M445 465.5h2M448 465.5h2M451 465.5h1M453 465.5h3M471 465.5h1M478 465.5h1M389 466.5h53M447 466.5h6M454 466.5h1M456 466.5h2M461 466.5h2M467 466.5h1M473 466.5h1M483 466.5h1M389 467.5h60M450 467.5h2M453 467.5h2M456 467.5h3M470 467.5h1M389 468.5h52M442 468.5h1M444 468.5h2M449 468.5h2M452 468.5h3M457 468.5h4M463 468.5h3M486 468.5h1M389 469.5h54M448 469.5h2M451 469.5h1M453 469.5h1M456 469.5h2M459 469.5h2M389 470.5h51M441 470.5h1M443 470.5h1M447 470.5h2M452 470.5h4M458 470.5h2M462 470.5h2M465 470.5h1M468 470.5h3M473 470.5h1M389 471.5h55M448 471.5h1M451 471.5h3M455 471.5h3M459 471.5h1M461 471.5h1M463 471.5h1M465 471.5h2M470 471.5h1M479 471.5h1M483 471.5h1M389 472.5h54M446 472.5h1M448 472.5h1M450 472.5h3M454 472.5h2M457 472.5h3M465 472.5h1M472 472.5h1M389 473.5h54M444 473.5h1M448 473.5h6M457 473.5h1M461 473.5h2M464 473.5h1M466 473.5h1M480 473.5h1M389 474.5h53M445 474.5h2M449 474.5h1M453 474.5h2M456 474.5h1M459 474.5h1M389 475.5h52M448 475.5h3M454 475.5h1M458 475.5h1M460 475.5h1M462 475.5h1M464 475.5h2M470 475.5h1M389 476.5h54M448 476.5h1M450 476.5h1M452 476.5h1M455 476.5h1M459 476.5h1M463 476.5h2M487 476.5h1" stroke="#000" stroke-width="1.0" fill="none"/>
<rect x="388.8" y="356.6" width="123.8" height="120.6" fill="none" stroke="#000" stroke-width="1.35"/>
<path d="M425.2 356.6V477.2M388.8 444.8H512.6" stroke="#000" stroke-width="1.8"/>
<path d="M388.80 477.2v4.0M388.8 477.20h-4.0M398.12 477.2v2.8M388.8 468.12h-2.8M403.57 477.2v2.8M388.8 462.81h-2.8M407.43 477.2v2.8M388.8 459.05h-2.8M410.43 477.2v2.8M388.8 456.13h-2.8M412.88 477.2v2.8M388.8 453.74h-2.8M414.96 477.2v2.8M388.8 451.72h-2.8M416.75 477.2v2.8M388.8 449.97h-2.8M418.33 477.2v2.8M388.8 448.43h-2.8M419.75 477.2v4.0M388.8 447.05h-4.0M429.07 477.2v2.8M388.8 437.97h-2.8M434.52 477.2v2.8M388.8 432.66h-2.8M438.38 477.2v2.8M388.8 428.90h-2.8M441.38 477.2v2.8M388.8 425.98h-2.8M443.83 477.2v2.8M388.8 423.59h-2.8M445.91 477.2v2.8M388.8 421.57h-2.8M447.70 477.2v2.8M388.8 419.82h-2.8M449.28 477.2v2.8M388.8 418.28h-2.8M450.70 477.2v4.0M388.8 416.90h-4.0M460.02 477.2v2.8M388.8 407.82h-2.8M465.47 477.2v2.8M388.8 402.51h-2.8M469.33 477.2v2.8M388.8 398.75h-2.8M472.33 477.2v2.8M388.8 395.83h-2.8M474.78 477.2v2.8M388.8 393.44h-2.8M476.86 477.2v2.8M388.8 391.42h-2.8M478.65 477.2v2.8M388.8 389.67h-2.8M480.23 477.2v2.8M388.8 388.13h-2.8M481.65 477.2v4.0M388.8 386.75h-4.0M490.97 477.2v2.8M388.8 377.67h-2.8M496.42 477.2v2.8M388.8 372.36h-2.8M500.28 477.2v2.8M388.8 368.60h-2.8M503.28 477.2v2.8M388.8 365.68h-2.8M505.73 477.2v2.8M388.8 363.29h-2.8M507.81 477.2v2.8M388.8 361.27h-2.8M509.60 477.2v2.8M388.8 359.52h-2.8M511.18 477.2v2.8M388.8 357.98h-2.8M511.60 477.2v4M388.8 357.20h-4" stroke="#000" stroke-width="1.1" fill="none"/>
<text x="389.8" y="491.2" font-size="9.2" text-anchor="middle" stroke="#222" stroke-width="0.25">10<tspan font-size="7.6" dy="-5.9">0</tspan></text>
<text x="419.9" y="491.2" font-size="9.2" text-anchor="middle" stroke="#222" stroke-width="0.25">10<tspan font-size="7.6" dy="-5.9">1</tspan></text>
<text x="450.9" y="491.2" font-size="9.2" text-anchor="middle" stroke="#222" stroke-width="0.25">10<tspan font-size="7.6" dy="-5.9">2</tspan></text>
<text x="481.9" y="491.2" font-size="9.2" text-anchor="middle" stroke="#222" stroke-width="0.25">10<tspan font-size="7.6" dy="-5.9">3</tspan></text>
<text x="511.0" y="491.2" font-size="9.2" text-anchor="middle" stroke="#222" stroke-width="0.25">10<tspan font-size="7.6" dy="-5.9">4</tspan></text>
<text transform="translate(381.6,478.0) rotate(-90)" font-size="9.2" text-anchor="middle" stroke="#222" stroke-width="0.25">10<tspan font-size="7.6" dy="-5.9">0</tspan></text>
<text transform="translate(381.6,447.9) rotate(-90)" font-size="9.2" text-anchor="middle" stroke="#222" stroke-width="0.25">10<tspan font-size="7.6" dy="-5.9">1</tspan></text>
<text transform="translate(381.6,417.7) rotate(-90)" font-size="9.2" text-anchor="middle" stroke="#222" stroke-width="0.25">10<tspan font-size="7.6" dy="-5.9">2</tspan></text>
<text transform="translate(381.6,387.6) rotate(-90)" font-size="9.2" text-anchor="middle" stroke="#222" stroke-width="0.25">10<tspan font-size="7.6" dy="-5.9">3</tspan></text>
<text transform="translate(381.6,357.4) rotate(-90)" font-size="9.2" text-anchor="middle" stroke="#222" stroke-width="0.25">10<tspan font-size="7.6" dy="-5.9">4</tspan></text>
<text x="445.6" y="510.9" font-size="17.9" font-weight="bold" text-anchor="middle" textLength="47.5" lengthAdjust="spacingAndGlyphs" style="fill:#000">SIRP</text>
<text transform="translate(363.8,422.9) rotate(-90)" font-size="18.2" font-weight="bold" text-anchor="middle" textLength="54.0" lengthAdjust="spacingAndGlyphs" style="fill:#000">Gly A</text>
</svg></body></html>
